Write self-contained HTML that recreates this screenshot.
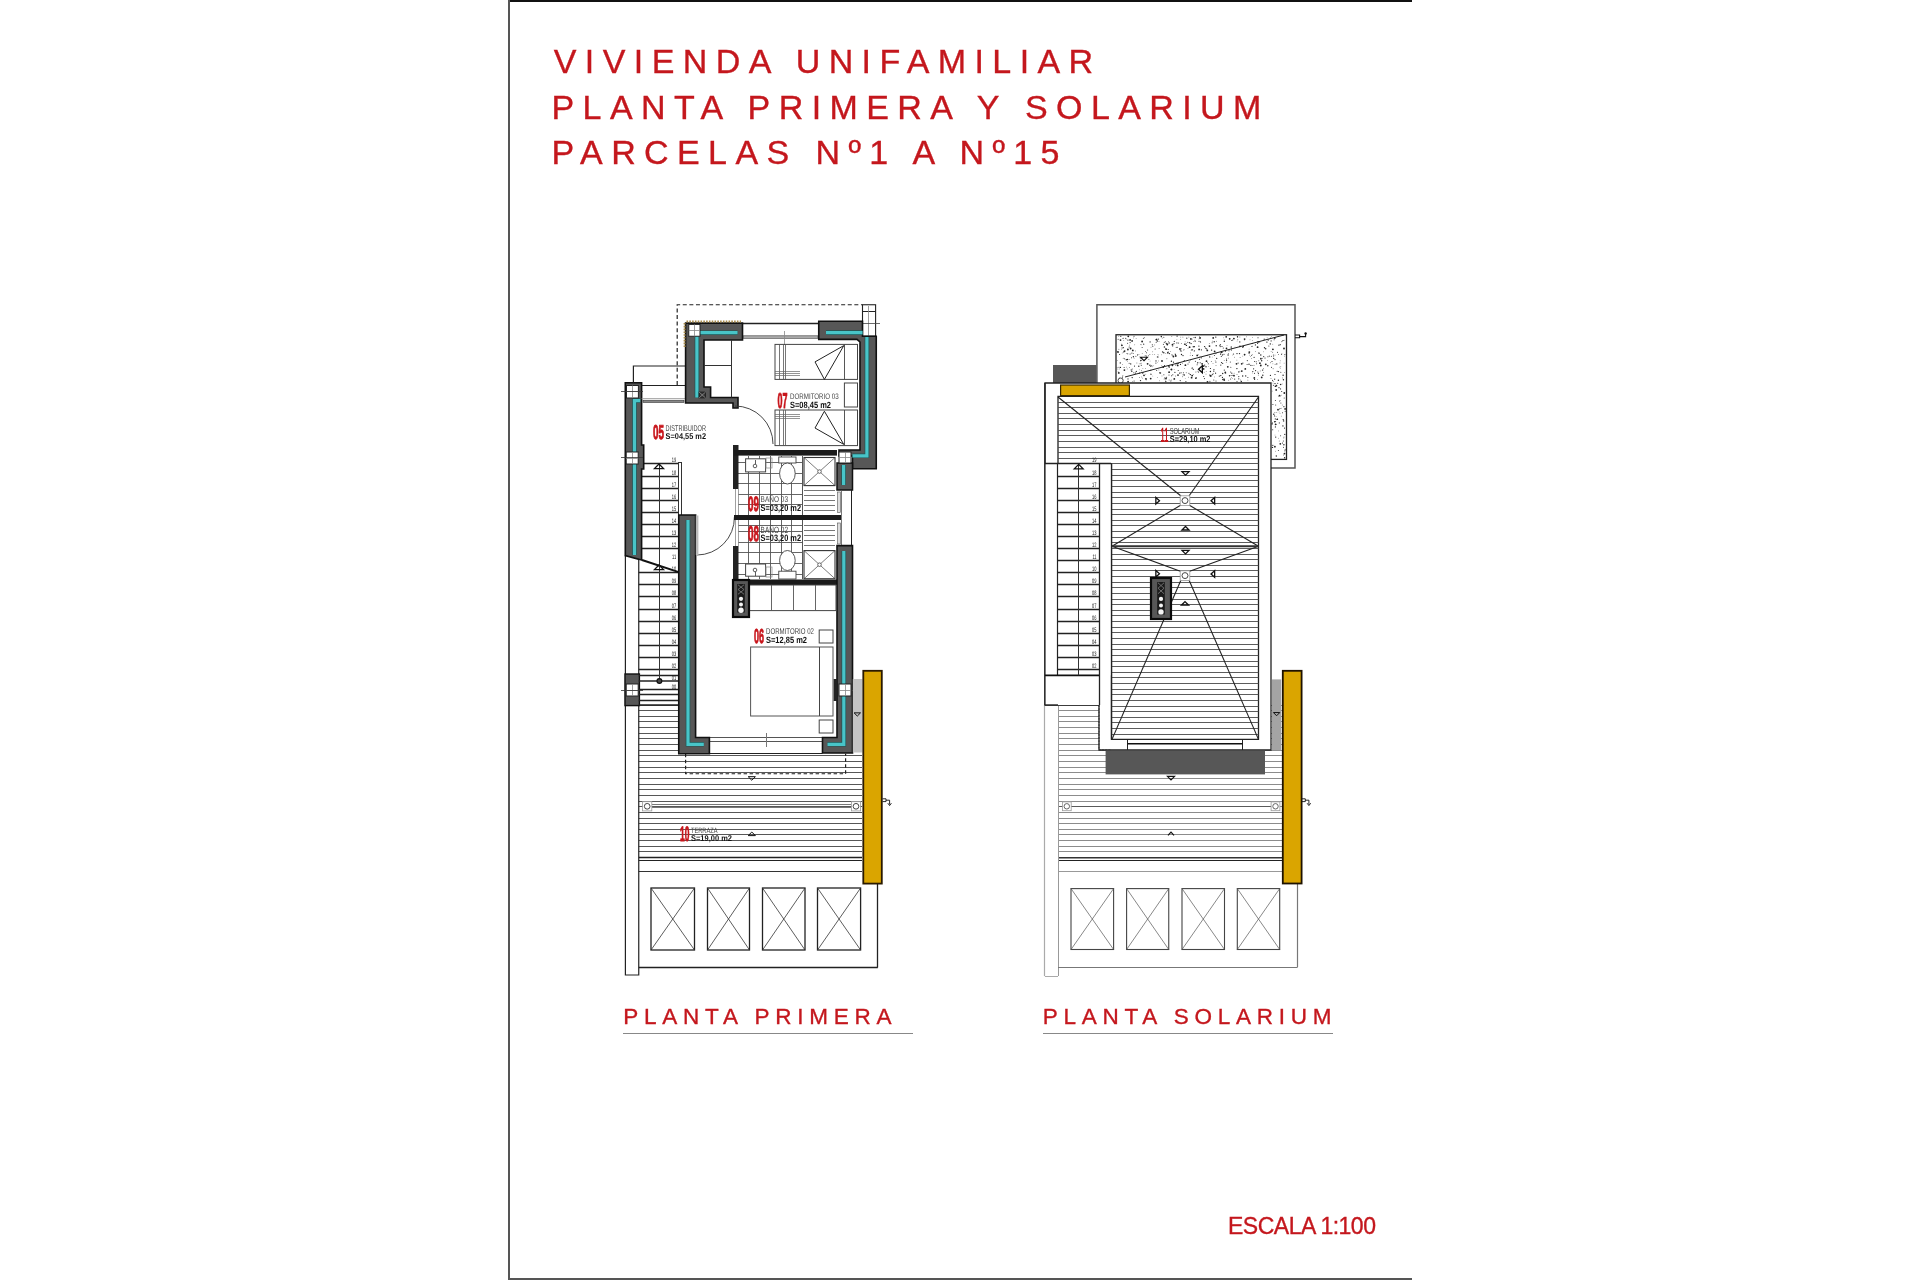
<!DOCTYPE html>
<html><head><meta charset="utf-8">
<style>
html,body{margin:0;padding:0;background:#fff;}
body{width:1920px;height:1280px;position:relative;overflow:hidden;font-family:"Liberation Sans",sans-serif;}
.t{position:absolute;color:#c4171d;white-space:nowrap;line-height:1;-webkit-text-stroke:0.35px #c4171d;}
.title{font-size:34px;letter-spacing:8.4px;}
.cap{font-size:22.5px;letter-spacing:5.75px;}
svg{position:absolute;left:0;top:0;} svg text{text-rendering:geometricPrecision;} svg{will-change:transform;}
</style></head><body>
<svg width="1920" height="1280" viewBox="0 0 1920 1280"><rect x="508" y="0" width="904" height="2" fill="#111" stroke="none" stroke-width="1" /><rect x="508" y="0" width="2" height="1280" fill="#555" stroke="none" stroke-width="1" /><rect x="508" y="1278" width="904" height="2" fill="#555" stroke="none" stroke-width="1" /><rect x="623" y="1033" width="290" height="1" fill="#888" stroke="none" stroke-width="1" /><rect x="1043" y="1033" width="290" height="1" fill="#888" stroke="none" stroke-width="1" /><line x1="638.75" y1="705.5" x2="862" y2="705.5" stroke="#444" stroke-width="0.9" /><line x1="638.75" y1="710.5" x2="862" y2="710.5" stroke="#444" stroke-width="0.9" /><line x1="638.75" y1="716.5" x2="862" y2="716.5" stroke="#444" stroke-width="0.9" /><line x1="638.75" y1="721.5" x2="862" y2="721.5" stroke="#444" stroke-width="0.9" /><line x1="638.75" y1="727.5" x2="862" y2="727.5" stroke="#444" stroke-width="0.9" /><line x1="638.75" y1="733.5" x2="862" y2="733.5" stroke="#444" stroke-width="0.9" /><line x1="638.75" y1="738.5" x2="862" y2="738.5" stroke="#444" stroke-width="0.9" /><line x1="638.75" y1="744.5" x2="862" y2="744.5" stroke="#444" stroke-width="0.9" /><line x1="638.75" y1="750.5" x2="862" y2="750.5" stroke="#444" stroke-width="0.9" /><line x1="638.75" y1="755.5" x2="862" y2="755.5" stroke="#444" stroke-width="0.9" /><line x1="638.75" y1="761.5" x2="862" y2="761.5" stroke="#444" stroke-width="0.9" /><line x1="638.75" y1="767.5" x2="862" y2="767.5" stroke="#444" stroke-width="0.9" /><line x1="638.75" y1="772.5" x2="862" y2="772.5" stroke="#444" stroke-width="0.9" /><line x1="638.75" y1="778.5" x2="862" y2="778.5" stroke="#444" stroke-width="0.9" /><line x1="638.75" y1="784.5" x2="862" y2="784.5" stroke="#444" stroke-width="0.9" /><line x1="638.75" y1="789.5" x2="862" y2="789.5" stroke="#444" stroke-width="0.9" /><line x1="638.75" y1="795.5" x2="862" y2="795.5" stroke="#444" stroke-width="0.9" /><line x1="638.75" y1="801.5" x2="862" y2="801.5" stroke="#444" stroke-width="0.9" /><line x1="638.75" y1="806.5" x2="862" y2="806.5" stroke="#444" stroke-width="0.9" /><line x1="638.75" y1="812.5" x2="862" y2="812.5" stroke="#444" stroke-width="0.9" /><line x1="638.75" y1="818.5" x2="862" y2="818.5" stroke="#444" stroke-width="0.9" /><line x1="638.75" y1="823.5" x2="862" y2="823.5" stroke="#444" stroke-width="0.9" /><line x1="638.75" y1="829.5" x2="862" y2="829.5" stroke="#444" stroke-width="0.9" /><line x1="638.75" y1="834.5" x2="862" y2="834.5" stroke="#444" stroke-width="0.9" /><line x1="638.75" y1="840.5" x2="862" y2="840.5" stroke="#444" stroke-width="0.9" /><line x1="638.75" y1="846.5" x2="862" y2="846.5" stroke="#444" stroke-width="0.9" /><line x1="638.75" y1="851.5" x2="862" y2="851.5" stroke="#444" stroke-width="0.9" /><line x1="638.75" y1="857.5" x2="862" y2="857.5" stroke="#222" stroke-width="1.3" /><line x1="638.75" y1="860.5" x2="862" y2="860.5" stroke="#222" stroke-width="1.1" /><line x1="638.75" y1="871.5" x2="862" y2="871.5" stroke="#333" stroke-width="1.2" /><rect x="679" y="703" width="173.5" height="50.7" fill="#fff" stroke="none" stroke-width="1" /><line x1="652" y1="804.5" x2="851" y2="804.5" stroke="#555" stroke-width="0.8" /><line x1="652" y1="807.5" x2="851" y2="807.5" stroke="#555" stroke-width="0.8" /><rect x="642.6" y="801.6999999999999" width="9.2" height="9.2" fill="#fff" stroke="#999" stroke-width="0.8" /><circle cx="647.2" cy="806.3" r="2.852" fill="#fff" stroke="#333" stroke-width="0.9"/><rect x="851.4" y="801.6999999999999" width="9.2" height="9.2" fill="#fff" stroke="#999" stroke-width="0.8" /><circle cx="856" cy="806.3" r="2.852" fill="#fff" stroke="#333" stroke-width="0.9"/><path d="M748.1999999999999,776.68 H755.4 L751.8,780.28 Z" fill="none" stroke="#111" stroke-width="1" /><path d="M748.1999999999999,835.62 H755.4 L751.8,832.02 Z" fill="none" stroke="#111" stroke-width="1" /><path d="M685.6,753.75 V773.75 H845.6 V753.75" fill="none" stroke="#222" stroke-width="1.2" stroke-dasharray="3.5 2.5"/><line x1="709.4" y1="737.5" x2="822.5" y2="737.5" stroke="#555" stroke-width="1.1" /><line x1="709.4" y1="741.5" x2="822.5" y2="741.5" stroke="#555" stroke-width="1.1" /><line x1="709.4" y1="753.5" x2="822.5" y2="753.5" stroke="#222" stroke-width="1.2" /><line x1="766.5" y1="733" x2="766.5" y2="747" stroke="#777" stroke-width="1" /><line x1="638.75" y1="967.5" x2="877.8" y2="967.5" stroke="#222" stroke-width="1.3" /><line x1="877.5" y1="884" x2="877.5" y2="967.5" stroke="#222" stroke-width="1.3" /><rect x="651" y="888" width="43.5" height="62" fill="none" stroke="#222" stroke-width="1.3" /><line x1="651" y1="888" x2="694.5" y2="950" stroke="#333" stroke-width="0.8" /><line x1="694.5" y1="888" x2="651" y2="950" stroke="#333" stroke-width="0.8" /><rect x="707.5" y="888" width="42.0" height="62" fill="none" stroke="#222" stroke-width="1.3" /><line x1="707.5" y1="888" x2="749.5" y2="950" stroke="#333" stroke-width="0.8" /><line x1="749.5" y1="888" x2="707.5" y2="950" stroke="#333" stroke-width="0.8" /><rect x="762.5" y="888" width="42.5" height="62" fill="none" stroke="#222" stroke-width="1.3" /><line x1="762.5" y1="888" x2="805" y2="950" stroke="#333" stroke-width="0.8" /><line x1="805" y1="888" x2="762.5" y2="950" stroke="#333" stroke-width="0.8" /><rect x="817.5" y="888" width="43.1" height="62" fill="none" stroke="#222" stroke-width="1.3" /><line x1="817.5" y1="888" x2="860.6" y2="950" stroke="#333" stroke-width="0.8" /><line x1="860.6" y1="888" x2="817.5" y2="950" stroke="#333" stroke-width="0.8" /><path d="M625.4,555.6 V975 H638.75 V560" fill="none" stroke="#222" stroke-width="1.2" /><rect x="625" y="674" width="14.4" height="31.6" fill="#575757" stroke="#111" stroke-width="1.4" /><rect x="626.2" y="684" width="12.0" height="12" fill="#fff" stroke="#222" stroke-width="1" /><line x1="632.5" y1="684" x2="632.5" y2="696" stroke="#888" stroke-width="0.8" /><line x1="626.2" y1="690.5" x2="638.2" y2="690.5" stroke="#888" stroke-width="0.8" /><line x1="621" y1="690.5" x2="643" y2="690.5" stroke="#333" stroke-width="0.8" /><line x1="642" y1="463.5" x2="678" y2="463.5" stroke="#222" stroke-width="1.3" /><line x1="642" y1="476.5" x2="678" y2="476.5" stroke="#222" stroke-width="1.3" /><line x1="642" y1="488.5" x2="678" y2="488.5" stroke="#222" stroke-width="1.3" /><line x1="642" y1="500.5" x2="678" y2="500.5" stroke="#222" stroke-width="1.3" /><line x1="642" y1="512.5" x2="678" y2="512.5" stroke="#222" stroke-width="1.3" /><line x1="642" y1="524.5" x2="678" y2="524.5" stroke="#222" stroke-width="1.3" /><line x1="642" y1="536.5" x2="678" y2="536.5" stroke="#222" stroke-width="1.3" /><line x1="642" y1="548.5" x2="678" y2="548.5" stroke="#222" stroke-width="1.3" /><line x1="638.75" y1="572.5" x2="678" y2="572.5" stroke="#222" stroke-width="1.3" /><line x1="638.75" y1="584.5" x2="678" y2="584.5" stroke="#222" stroke-width="1.3" /><line x1="638.75" y1="596.5" x2="678" y2="596.5" stroke="#222" stroke-width="1.3" /><line x1="638.75" y1="609.5" x2="678" y2="609.5" stroke="#222" stroke-width="1.3" /><line x1="638.75" y1="621.5" x2="678" y2="621.5" stroke="#222" stroke-width="1.3" /><line x1="638.75" y1="633.5" x2="678" y2="633.5" stroke="#222" stroke-width="1.3" /><line x1="638.75" y1="645.5" x2="678" y2="645.5" stroke="#222" stroke-width="1.3" /><line x1="638.75" y1="657.5" x2="678" y2="657.5" stroke="#222" stroke-width="1.3" /><line x1="638.75" y1="669.5" x2="678" y2="669.5" stroke="#222" stroke-width="1.3" /><line x1="638.75" y1="675.5" x2="678" y2="675.5" stroke="#222" stroke-width="1.3" /><line x1="638.75" y1="681" x2="678" y2="681" stroke="#222" stroke-width="1.6" /><line x1="638.75" y1="689.5" x2="678" y2="689.5" stroke="#222" stroke-width="1.3" /><line x1="638.75" y1="694.5" x2="678" y2="694.5" stroke="#222" stroke-width="1.3" /><line x1="638.75" y1="700.5" x2="678" y2="700.5" stroke="#222" stroke-width="1.3" /><line x1="638.75" y1="705" x2="678" y2="705" stroke="#222" stroke-width="1.6" /><line x1="642" y1="560" x2="678" y2="571.9" stroke="#111" stroke-width="2.0" /><line x1="659.5" y1="463.75" x2="659.5" y2="681" stroke="#333" stroke-width="1" /><circle cx="659.4" cy="681" r="2.4" fill="#444" stroke="#111" stroke-width="1.2"/><path d="M654.5,468.525 H663.5 L659,464.025 Z" fill="none" stroke="#111" stroke-width="1.3" /><path d="M654.5,569.525 H663.5 L659,565.025 Z" fill="none" stroke="#111" stroke-width="1.3" /><line x1="678.5" y1="462" x2="678.5" y2="515" stroke="#333" stroke-width="1" /><line x1="681.5" y1="462" x2="681.5" y2="515" stroke="#333" stroke-width="1" /><line x1="678.2" y1="462.5" x2="681" y2="462.5" stroke="#333" stroke-width="1" /><text x="0" y="0" font-family="Liberation Sans" font-size="6.4" fill="#1a1a1a" font-weight="normal" text-anchor="end" transform="translate(676.2,462) scale(0.62,1)">19</text><text x="0" y="0" font-family="Liberation Sans" font-size="6.4" fill="#1a1a1a" font-weight="normal" text-anchor="end" transform="translate(676.2,474.5) scale(0.62,1)">18</text><text x="0" y="0" font-family="Liberation Sans" font-size="6.4" fill="#1a1a1a" font-weight="normal" text-anchor="end" transform="translate(676.2,486.5) scale(0.62,1)">17</text><text x="0" y="0" font-family="Liberation Sans" font-size="6.4" fill="#1a1a1a" font-weight="normal" text-anchor="end" transform="translate(676.2,498.5) scale(0.62,1)">16</text><text x="0" y="0" font-family="Liberation Sans" font-size="6.4" fill="#1a1a1a" font-weight="normal" text-anchor="end" transform="translate(676.2,510.5) scale(0.62,1)">15</text><text x="0" y="0" font-family="Liberation Sans" font-size="6.4" fill="#1a1a1a" font-weight="normal" text-anchor="end" transform="translate(676.2,522.5) scale(0.62,1)">14</text><text x="0" y="0" font-family="Liberation Sans" font-size="6.4" fill="#1a1a1a" font-weight="normal" text-anchor="end" transform="translate(676.2,534.5) scale(0.62,1)">13</text><text x="0" y="0" font-family="Liberation Sans" font-size="6.4" fill="#1a1a1a" font-weight="normal" text-anchor="end" transform="translate(676.2,546.5) scale(0.62,1)">12</text><text x="0" y="0" font-family="Liberation Sans" font-size="6.4" fill="#1a1a1a" font-weight="normal" text-anchor="end" transform="translate(676.2,558.5) scale(0.62,1)">11</text><text x="0" y="0" font-family="Liberation Sans" font-size="6.4" fill="#1a1a1a" font-weight="normal" text-anchor="end" transform="translate(676.2,570.5) scale(0.62,1)">10</text><text x="0" y="0" font-family="Liberation Sans" font-size="6.4" fill="#1a1a1a" font-weight="normal" text-anchor="end" transform="translate(676.2,582.8) scale(0.62,1)">09</text><text x="0" y="0" font-family="Liberation Sans" font-size="6.4" fill="#1a1a1a" font-weight="normal" text-anchor="end" transform="translate(676.2,594.5) scale(0.62,1)">08</text><text x="0" y="0" font-family="Liberation Sans" font-size="6.4" fill="#1a1a1a" font-weight="normal" text-anchor="end" transform="translate(676.2,607.5) scale(0.62,1)">07</text><text x="0" y="0" font-family="Liberation Sans" font-size="6.4" fill="#1a1a1a" font-weight="normal" text-anchor="end" transform="translate(676.2,619.5) scale(0.62,1)">06</text><text x="0" y="0" font-family="Liberation Sans" font-size="6.4" fill="#1a1a1a" font-weight="normal" text-anchor="end" transform="translate(676.2,631.5) scale(0.62,1)">05</text><text x="0" y="0" font-family="Liberation Sans" font-size="6.4" fill="#1a1a1a" font-weight="normal" text-anchor="end" transform="translate(676.2,643.5) scale(0.62,1)">04</text><text x="0" y="0" font-family="Liberation Sans" font-size="6.4" fill="#1a1a1a" font-weight="normal" text-anchor="end" transform="translate(676.2,655.5) scale(0.62,1)">03</text><text x="0" y="0" font-family="Liberation Sans" font-size="6.4" fill="#1a1a1a" font-weight="normal" text-anchor="end" transform="translate(676.2,668) scale(0.62,1)">02</text><text x="0" y="0" font-family="Liberation Sans" font-size="6.4" fill="#1a1a1a" font-weight="normal" text-anchor="end" transform="translate(676.2,679.8) scale(0.62,1)">01</text><text x="0" y="0" font-family="Liberation Sans" font-size="6.4" fill="#1a1a1a" font-weight="normal" text-anchor="end" transform="translate(676.2,688.6) scale(0.62,1)">00</text><path d="M625.3,382.7 H641.6 V445 H643.7 V469 H641.6 V560 L625.3,555.6 Z" fill="#575757" stroke="#111" stroke-width="1.6" /><path d="M640.2,400.6 H634.5 V555" fill="none" stroke="#1f5555" stroke-width="4.6" stroke-linejoin="miter" stroke-linecap="butt"/><path d="M640.2,400.6 H634.5 V555" fill="none" stroke="#48c4c8" stroke-width="3.2" stroke-linejoin="miter" stroke-linecap="butt"/><rect x="626.5" y="385.5" width="11.9" height="12.5" fill="#fff" stroke="#222" stroke-width="1" /><line x1="632.5" y1="385.5" x2="632.5" y2="398" stroke="#888" stroke-width="0.8" /><line x1="626.5" y1="391.5" x2="638.4" y2="391.5" stroke="#888" stroke-width="0.8" /><line x1="621" y1="391.5" x2="643" y2="391.5" stroke="#333" stroke-width="0.8" /><rect x="626.2" y="452" width="12.0" height="12" fill="#fff" stroke="#222" stroke-width="1" /><line x1="632.5" y1="452" x2="632.5" y2="464" stroke="#888" stroke-width="0.8" /><line x1="626.2" y1="458.5" x2="638.2" y2="458.5" stroke="#888" stroke-width="0.8" /><line x1="621" y1="457.5" x2="643" y2="457.5" stroke="#333" stroke-width="0.8" /><path d="M633.4,382.7 V366 H685.6" fill="none" stroke="#222" stroke-width="1.2" /><line x1="641.6" y1="385.5" x2="685.6" y2="385.5" stroke="#222" stroke-width="1.2" /><line x1="641.6" y1="398.5" x2="685.6" y2="398.5" stroke="#999" stroke-width="0.8" /><rect x="643" y="400.2" width="41" height="2.2" fill="#888" stroke="#333" stroke-width="0.6" /><path d="M677.2,385 V304.75 H862.5" fill="none" stroke="#222" stroke-width="1.2" stroke-dasharray="4 2.6"/><rect x="862.5" y="304.75" width="13.1" height="31.5" fill="#fff" stroke="#222" stroke-width="1.1" /><line x1="862.5" y1="311.5" x2="875.6" y2="311.5" stroke="#222" stroke-width="1" /><line x1="868.5" y1="306" x2="868.5" y2="336" stroke="#888" stroke-width="0.8" /><line x1="860" y1="323.5" x2="880" y2="323.5" stroke="#444" stroke-width="0.8" /><line x1="742.5" y1="323.5" x2="818.75" y2="323.5" stroke="#222" stroke-width="1.3" /><rect x="743" y="335.8" width="75" height="2.5" fill="#aaa" stroke="#444" stroke-width="0.6" /><line x1="784.5" y1="331" x2="784.5" y2="345" stroke="#888" stroke-width="0.8" /><path d="M685.6,323.1 H742.5 V340 H704 V387 H710.6 V397.5 H738 V408 H733 V403 H685.6 Z" fill="#575757" stroke="#111" stroke-width="1.6" /><path d="M686.5,321.6 H741" fill="none" stroke="#a88a4a" stroke-width="2" stroke-dasharray="1.6 1.2"/><path d="M684.6,323 V347" fill="none" stroke="#a88a4a" stroke-width="2" stroke-dasharray="1.6 1.2"/><path d="M737.5,332.7 H696.9 V397.5" fill="none" stroke="#1f5555" stroke-width="4.6" stroke-linejoin="miter" stroke-linecap="butt"/><path d="M737.5,332.7 H696.9 V397.5" fill="none" stroke="#48c4c8" stroke-width="3.2" stroke-linejoin="miter" stroke-linecap="butt"/><rect x="688.75" y="324.4" width="11.25" height="11.85" fill="#fff" stroke="#222" stroke-width="1" /><line x1="694.5" y1="324.4" x2="694.5" y2="336.25" stroke="#888" stroke-width="0.8" /><line x1="688.75" y1="330.5" x2="700" y2="330.5" stroke="#888" stroke-width="0.8" /><rect x="699" y="392" width="6.6" height="6" fill="#333" stroke="#111" stroke-width="0.6" /><line x1="699" y1="392" x2="705.6" y2="398" stroke="#aaa" stroke-width="0.6" /><line x1="705.6" y1="392" x2="699" y2="398" stroke="#aaa" stroke-width="0.6" /><line x1="731.5" y1="340" x2="731.5" y2="397.5" stroke="#333" stroke-width="1" /><line x1="704" y1="365.5" x2="731" y2="365.5" stroke="#333" stroke-width="1" /><path d="M735,406 A38,38 0 0 1 773,444" fill="none" stroke="#333" stroke-width="0.9" /><path d="M734.4,517 A37.5,37.5 0 0 1 697,555" fill="none" stroke="#333" stroke-width="0.9" /><path d="M818.75,321.25 H862.5 V336.25 H876.25 V468.75 H852.5 V456 H839 V450 H860 V342 L857,339.4 H818.75 Z" fill="#575757" stroke="#111" stroke-width="1.6" /><path d="M826,332.6 H862.5 M866.9,337 V455.8 H852.5" fill="none" stroke="#1f5555" stroke-width="4.6" stroke-linejoin="miter" stroke-linecap="butt"/><path d="M826,332.6 H862.5 M866.9,337 V455.8 H852.5" fill="none" stroke="#48c4c8" stroke-width="3.2" stroke-linejoin="miter" stroke-linecap="butt"/><rect x="775" y="344.4" width="82.5" height="35.0" fill="none" stroke="#444" stroke-width="1" /><line x1="779.5" y1="344.4" x2="779.5" y2="379.4" stroke="#555" stroke-width="0.8" /><line x1="783.5" y1="344.4" x2="783.5" y2="379.4" stroke="#555" stroke-width="0.8" /><line x1="785.5" y1="344.4" x2="785.5" y2="379.4" stroke="#555" stroke-width="0.8" /><line x1="844.5" y1="344.4" x2="844.5" y2="379.4" stroke="#444" stroke-width="0.9" /><line x1="775" y1="371.5" x2="800" y2="371.5" stroke="#666" stroke-width="0.7" /><line x1="775" y1="373.5" x2="800" y2="373.5" stroke="#666" stroke-width="0.7" /><line x1="775" y1="375.5" x2="800" y2="375.5" stroke="#666" stroke-width="0.7" /><path d="M843.8,345.6 L815,361.9 L824.4,379.4 Z" fill="none" stroke="#222" stroke-width="1" /><rect x="775" y="410" width="82.5" height="35.6" fill="none" stroke="#444" stroke-width="1" /><line x1="779.5" y1="410" x2="779.5" y2="445.6" stroke="#555" stroke-width="0.8" /><line x1="783.5" y1="410" x2="783.5" y2="445.6" stroke="#555" stroke-width="0.8" /><line x1="785.5" y1="410" x2="785.5" y2="445.6" stroke="#555" stroke-width="0.8" /><line x1="844.5" y1="410" x2="844.5" y2="445.6" stroke="#444" stroke-width="0.9" /><line x1="775" y1="414.5" x2="800" y2="414.5" stroke="#666" stroke-width="0.7" /><line x1="775" y1="416.5" x2="800" y2="416.5" stroke="#666" stroke-width="0.7" /><line x1="775" y1="418.5" x2="800" y2="418.5" stroke="#666" stroke-width="0.7" /><path d="M824.4,411.25 L815,428 L843.8,444.4 Z" fill="none" stroke="#222" stroke-width="1" /><rect x="844.4" y="383" width="13.1" height="24" fill="none" stroke="#444" stroke-width="1" /><rect x="739" y="456" width="98" height="123" fill="#fff" stroke="none" stroke-width="1" /><line x1="748.5" y1="456" x2="748.5" y2="579" stroke="#555" stroke-width="0.9" /><line x1="759.5" y1="456" x2="759.5" y2="579" stroke="#555" stroke-width="0.9" /><line x1="770.5" y1="456" x2="770.5" y2="579" stroke="#555" stroke-width="0.9" /><line x1="781.5" y1="456" x2="781.5" y2="579" stroke="#555" stroke-width="0.9" /><line x1="791.5" y1="456" x2="791.5" y2="579" stroke="#555" stroke-width="0.9" /><line x1="738" y1="462.5" x2="802.5" y2="462.5" stroke="#555" stroke-width="0.9" /><line x1="738" y1="473.5" x2="802.5" y2="473.5" stroke="#555" stroke-width="0.9" /><line x1="738" y1="483.5" x2="802.5" y2="483.5" stroke="#555" stroke-width="0.9" /><line x1="738" y1="494.5" x2="802.5" y2="494.5" stroke="#555" stroke-width="0.9" /><line x1="738" y1="504.5" x2="802.5" y2="504.5" stroke="#555" stroke-width="0.9" /><line x1="738" y1="525.5" x2="802.5" y2="525.5" stroke="#555" stroke-width="0.9" /><line x1="738" y1="531.5" x2="802.5" y2="531.5" stroke="#555" stroke-width="0.9" /><line x1="738" y1="542.5" x2="802.5" y2="542.5" stroke="#555" stroke-width="0.9" /><line x1="738" y1="552.5" x2="802.5" y2="552.5" stroke="#555" stroke-width="0.9" /><line x1="738" y1="563.5" x2="802.5" y2="563.5" stroke="#555" stroke-width="0.9" /><line x1="738" y1="574.5" x2="802.5" y2="574.5" stroke="#555" stroke-width="0.9" /><line x1="802.5" y1="456" x2="802.5" y2="579" stroke="#555" stroke-width="1" /><rect x="804" y="457.5" width="31" height="28.1" fill="#fff" stroke="#333" stroke-width="1.1" /><line x1="804" y1="457.5" x2="835" y2="485.6" stroke="#444" stroke-width="0.7" /><line x1="835" y1="457.5" x2="804" y2="485.6" stroke="#444" stroke-width="0.7" /><circle cx="819.5" cy="471.55" r="1.8" fill="#fff" stroke="#333" stroke-width="0.7"/><rect x="804" y="550.6" width="31" height="28.15" fill="#fff" stroke="#333" stroke-width="1.1" /><line x1="804" y1="550.6" x2="835" y2="578.75" stroke="#444" stroke-width="0.7" /><line x1="835" y1="550.6" x2="804" y2="578.75" stroke="#444" stroke-width="0.7" /><circle cx="819.5" cy="564.675" r="1.8" fill="#fff" stroke="#333" stroke-width="0.7"/><line x1="804" y1="490.5" x2="835" y2="490.5" stroke="#777" stroke-width="1" /><line x1="804" y1="495.5" x2="835" y2="495.5" stroke="#777" stroke-width="1" /><line x1="804" y1="500.5" x2="835" y2="500.5" stroke="#777" stroke-width="1" /><line x1="804" y1="505.5" x2="835" y2="505.5" stroke="#777" stroke-width="1" /><line x1="804" y1="510.5" x2="835" y2="510.5" stroke="#777" stroke-width="1" /><line x1="804" y1="525.5" x2="835" y2="525.5" stroke="#777" stroke-width="1" /><line x1="804" y1="530.5" x2="835" y2="530.5" stroke="#777" stroke-width="1" /><line x1="804" y1="535.5" x2="835" y2="535.5" stroke="#777" stroke-width="1" /><line x1="804" y1="540.5" x2="835" y2="540.5" stroke="#777" stroke-width="1" /><line x1="804" y1="545.5" x2="835" y2="545.5" stroke="#777" stroke-width="1" /><rect x="745.6" y="458.8" width="20.0" height="13.1" fill="#fff" stroke="#444" stroke-width="1" /><circle cx="755" cy="466" r="1.8" fill="none" stroke="#333" stroke-width="0.8"/><line x1="755.5" y1="460" x2="755.5" y2="464" stroke="#333" stroke-width="0.8" /><rect x="745.6" y="564" width="20.0" height="12.2" fill="#fff" stroke="#444" stroke-width="1" /><circle cx="755" cy="570" r="1.8" fill="none" stroke="#333" stroke-width="0.8"/><line x1="755.5" y1="572" x2="755.5" y2="576" stroke="#333" stroke-width="0.8" /><rect x="766" y="458" width="6" height="10" fill="none" stroke="#888" stroke-width="0.7" /><rect x="766" y="567" width="6" height="10" fill="none" stroke="#888" stroke-width="0.7" /><rect x="778.75" y="457" width="17.25" height="6" fill="#fff" stroke="#444" stroke-width="0.9" /><ellipse cx="787.4" cy="473.5" rx="7.8" ry="10.5" fill="#fff" stroke="#444" stroke-width="0.9"/><rect x="778.75" y="571.2" width="17.25" height="7.8" fill="#fff" stroke="#444" stroke-width="0.9" /><ellipse cx="787.4" cy="560.5" rx="7.8" ry="10" fill="#fff" stroke="#444" stroke-width="0.9"/><rect x="733" y="445" width="5.5" height="44" fill="#222" stroke="none" stroke-width="1" /><rect x="733" y="546" width="5.5" height="36" fill="#222" stroke="none" stroke-width="1" /><line x1="735.5" y1="489" x2="735.5" y2="546" stroke="#888" stroke-width="0.8" /><line x1="738.5" y1="489" x2="738.5" y2="546" stroke="#888" stroke-width="0.8" /><rect x="734" y="450" width="103" height="5.6" fill="#1a1a1a" stroke="none" stroke-width="1" /><rect x="734" y="515" width="107" height="5" fill="#1a1a1a" stroke="none" stroke-width="1" /><rect x="734" y="579.5" width="103" height="5.5" fill="#1a1a1a" stroke="none" stroke-width="1" /><path d="M837,463 H852.5 V490 H837 Z" fill="#575757" stroke="#111" stroke-width="1.5" /><path d="M843.6,465 V485" fill="none" stroke="#1f5555" stroke-width="4.6" stroke-linejoin="miter" stroke-linecap="butt"/><path d="M843.6,465 V485" fill="none" stroke="#48c4c8" stroke-width="3.2" stroke-linejoin="miter" stroke-linecap="butt"/><rect x="839" y="452" width="12" height="11" fill="#fff" stroke="#222" stroke-width="1" /><line x1="845.5" y1="452" x2="845.5" y2="463" stroke="#888" stroke-width="0.8" /><line x1="839" y1="457.5" x2="851" y2="457.5" stroke="#888" stroke-width="0.8" /><line x1="841.5" y1="490" x2="841.5" y2="546" stroke="#555" stroke-width="0.8" /><line x1="851.5" y1="490" x2="851.5" y2="546" stroke="#222" stroke-width="1" /><rect x="837.5" y="492" width="3.0" height="20.5" fill="#ddd" stroke="#555" stroke-width="0.6" /><rect x="837.5" y="523" width="3.0" height="21" fill="#ddd" stroke="#555" stroke-width="0.6" /><path d="M678.75,515 H695.6 V737.5 H709.4 V753.75 H678.75 Z" fill="#575757" stroke="#111" stroke-width="1.6" /><path d="M688,520 V744.3 H703.8" fill="none" stroke="#1f5555" stroke-width="4.6" stroke-linejoin="miter" stroke-linecap="butt"/><path d="M688,520 V744.3 H703.8" fill="none" stroke="#48c4c8" stroke-width="3.2" stroke-linejoin="miter" stroke-linecap="butt"/><rect x="695.8" y="515.5" width="2.6" height="39.5" fill="#bbb" stroke="none" stroke-width="1" /><path d="M837,545.6 H852.5 V753 H822.5 V737.5 H837 Z" fill="#575757" stroke="#111" stroke-width="1.6" /><path d="M843.8,551 V744.3 H827.5" fill="none" stroke="#1f5555" stroke-width="4.6" stroke-linejoin="miter" stroke-linecap="butt"/><path d="M843.8,551 V744.3 H827.5" fill="none" stroke="#48c4c8" stroke-width="3.2" stroke-linejoin="miter" stroke-linecap="butt"/><rect x="833.6" y="679" width="3.6" height="22" fill="#222" stroke="none" stroke-width="1" /><rect x="839" y="684" width="12" height="12" fill="#fff" stroke="#222" stroke-width="1" /><line x1="845.5" y1="684" x2="845.5" y2="696" stroke="#888" stroke-width="0.8" /><line x1="839" y1="690.5" x2="851" y2="690.5" stroke="#888" stroke-width="0.8" /><line x1="851" y1="690.5" x2="858" y2="690.5" stroke="#333" stroke-width="0.8" /><rect x="852.8" y="679" width="9.6" height="73.5" fill="#c4c4c4" stroke="none" stroke-width="1" /><path d="M854.0999999999999,712.8599999999999 H860.5 L857.3,716.06 Z" fill="none" stroke="#111" stroke-width="1" /><rect x="863.3" y="670.8" width="18.5" height="212.8" fill="#daa500" stroke="#2a1a00" stroke-width="1.8" /><path d="M882.5,798.8 H886 V801.6 H882.5 M886,800.2 H889.6 V804.5" fill="none" stroke="#111" stroke-width="0.9" /><path d="M887.8,803.2 L889.6,805.6 L891.4,803.2" fill="none" stroke="#111" stroke-width="0.9" /><rect x="749.4" y="585" width="86.6" height="25.6" fill="none" stroke="#444" stroke-width="1" /><line x1="771.5" y1="585" x2="771.5" y2="610.6" stroke="#555" stroke-width="0.9" /><line x1="793.5" y1="585" x2="793.5" y2="610.6" stroke="#555" stroke-width="0.9" /><line x1="815.5" y1="585" x2="815.5" y2="610.6" stroke="#555" stroke-width="0.9" /><rect x="750.6" y="647" width="82.4" height="69" fill="none" stroke="#555" stroke-width="1" /><line x1="819.5" y1="647" x2="819.5" y2="716" stroke="#444" stroke-width="1" /><rect x="819.2" y="630" width="13.8" height="13" fill="none" stroke="#444" stroke-width="1" /><rect x="819.2" y="720" width="13.8" height="13" fill="none" stroke="#444" stroke-width="1" /><rect x="733" y="580" width="16" height="37" fill="#575757" stroke="#0a0a0a" stroke-width="2.2" /><rect x="737.2" y="584" width="7.6" height="28.5" fill="#1a1a1a" stroke="none" stroke-width="1" /><path d="M738.0,584.8 L744.0,589.53 L738.0,594.26 M744.0,584.8 L738.0,589.53 L744.0,594.26" fill="none" stroke="#777" stroke-width="0.9" /><circle cx="741.0" cy="598.82" r="2.1" fill="#f4f4f4"/><circle cx="741.0" cy="604.52" r="2.0" fill="#f4f4f4"/><circle cx="741.0" cy="610.22" r="2.7" fill="#f4f4f4"/><rect x="1096.9" y="304.75" width="198.1" height="163.25" fill="#fff" stroke="#555" stroke-width="1.5" /><rect x="1116" y="334.75" width="170.5" height="124.65" fill="#fff" stroke="#222" stroke-width="1.3" /><g fill="#222"><circle cx="1171.6" cy="354.5" r="0.35"/><circle cx="1178.6" cy="343.1" r="0.5"/><circle cx="1123.3" cy="389.1" r="0.4"/><circle cx="1127.0" cy="405.2" r="0.5"/><circle cx="1127.4" cy="407.7" r="0.35"/><circle cx="1281.5" cy="341.7" r="0.45"/><circle cx="1165.8" cy="353.7" r="0.4"/><circle cx="1231.9" cy="348.6" r="0.5"/><circle cx="1127.6" cy="343.3" r="0.5"/><circle cx="1272.6" cy="380.3" r="0.5"/><circle cx="1239.9" cy="371.2" r="0.4"/><circle cx="1244.6" cy="354.6" r="0.9"/><circle cx="1174.3" cy="378.9" r="0.9"/><circle cx="1127.2" cy="421.9" r="0.9"/><circle cx="1229.7" cy="338.8" r="0.9"/><circle cx="1200.2" cy="362.7" r="0.55"/><circle cx="1138.8" cy="366.3" r="0.7"/><circle cx="1163.8" cy="352.8" r="0.7"/><circle cx="1262.6" cy="370.1" r="0.7"/><circle cx="1283.2" cy="419.6" r="0.7"/><circle cx="1278.4" cy="354.5" r="0.45"/><circle cx="1119.0" cy="437.7" r="0.45"/><circle cx="1161.3" cy="336.5" r="0.7"/><circle cx="1170.7" cy="351.4" r="0.35"/><circle cx="1277.4" cy="419.3" r="0.7"/><circle cx="1191.2" cy="349.5" r="0.35"/><circle cx="1220.4" cy="344.6" r="0.5"/><circle cx="1220.5" cy="354.2" r="0.55"/><circle cx="1278.0" cy="409.7" r="0.9"/><circle cx="1284.3" cy="393.0" r="0.9"/><circle cx="1169.5" cy="353.6" r="0.6"/><circle cx="1176.9" cy="363.3" r="0.6"/><circle cx="1149.9" cy="365.3" r="0.7"/><circle cx="1241.7" cy="363.8" r="0.9"/><circle cx="1176.9" cy="339.5" r="0.35"/><circle cx="1238.8" cy="378.8" r="0.6"/><circle cx="1130.6" cy="348.5" r="0.9"/><circle cx="1150.1" cy="361.0" r="0.35"/><circle cx="1251.7" cy="346.4" r="0.4"/><circle cx="1280.7" cy="384.5" r="0.7"/><circle cx="1242.3" cy="346.4" r="0.45"/><circle cx="1145.6" cy="351.5" r="0.45"/><circle cx="1275.0" cy="355.1" r="0.45"/><circle cx="1120.6" cy="433.8" r="0.4"/><circle cx="1256.2" cy="361.8" r="0.55"/><circle cx="1245.7" cy="375.9" r="0.7"/><circle cx="1257.6" cy="343.5" r="0.6"/><circle cx="1139.0" cy="354.6" r="0.35"/><circle cx="1142.2" cy="353.3" r="0.4"/><circle cx="1210.8" cy="375.9" r="0.9"/><circle cx="1249.1" cy="349.0" r="0.35"/><circle cx="1158.9" cy="369.9" r="0.4"/><circle cx="1275.6" cy="421.6" r="0.55"/><circle cx="1272.5" cy="445.3" r="0.5"/><circle cx="1258.5" cy="352.8" r="0.4"/><circle cx="1183.1" cy="374.7" r="0.5"/><circle cx="1189.2" cy="362.0" r="0.55"/><circle cx="1228.3" cy="353.5" r="0.45"/><circle cx="1280.0" cy="362.9" r="0.4"/><circle cx="1283.8" cy="437.9" r="0.45"/><circle cx="1177.1" cy="347.3" r="0.6"/><circle cx="1120.3" cy="403.8" r="0.9"/><circle cx="1204.2" cy="372.2" r="0.4"/><circle cx="1131.2" cy="369.3" r="0.45"/><circle cx="1162.6" cy="351.9" r="0.7"/><circle cx="1276.4" cy="385.7" r="0.9"/><circle cx="1235.0" cy="347.0" r="0.35"/><circle cx="1251.7" cy="358.4" r="0.4"/><circle cx="1162.3" cy="338.1" r="0.4"/><circle cx="1252.1" cy="346.3" r="0.5"/><circle cx="1128.2" cy="441.6" r="0.9"/><circle cx="1118.9" cy="457.7" r="0.7"/><circle cx="1273.1" cy="368.8" r="0.45"/><circle cx="1124.3" cy="422.8" r="0.4"/><circle cx="1280.3" cy="368.1" r="0.45"/><circle cx="1151.0" cy="374.2" r="0.55"/><circle cx="1206.5" cy="361.2" r="0.9"/><circle cx="1201.3" cy="357.8" r="0.6"/><circle cx="1123.2" cy="338.3" r="0.5"/><circle cx="1203.6" cy="366.1" r="0.9"/><circle cx="1282.5" cy="377.9" r="0.45"/><circle cx="1185.2" cy="378.5" r="0.35"/><circle cx="1258.0" cy="337.7" r="0.55"/><circle cx="1189.6" cy="342.8" r="0.7"/><circle cx="1164.5" cy="365.6" r="0.55"/><circle cx="1124.6" cy="358.7" r="0.55"/><circle cx="1192.1" cy="368.2" r="0.6"/><circle cx="1280.9" cy="403.0" r="0.5"/><circle cx="1122.8" cy="444.0" r="0.5"/><circle cx="1177.1" cy="336.1" r="0.7"/><circle cx="1131.1" cy="370.1" r="0.5"/><circle cx="1183.4" cy="372.7" r="0.5"/><circle cx="1260.8" cy="355.0" r="0.7"/><circle cx="1200.3" cy="370.8" r="0.45"/><circle cx="1124.4" cy="438.2" r="0.7"/><circle cx="1155.7" cy="339.8" r="0.45"/><circle cx="1125.6" cy="338.3" r="0.5"/><circle cx="1199.4" cy="336.4" r="0.4"/><circle cx="1128.1" cy="426.2" r="0.55"/><circle cx="1165.4" cy="341.7" r="0.5"/><circle cx="1130.1" cy="354.0" r="0.55"/><circle cx="1221.7" cy="352.3" r="0.9"/><circle cx="1127.2" cy="368.9" r="0.4"/><circle cx="1274.8" cy="338.1" r="0.9"/><circle cx="1284.6" cy="457.7" r="0.7"/><circle cx="1277.5" cy="352.2" r="0.55"/><circle cx="1198.9" cy="339.0" r="0.35"/><circle cx="1277.1" cy="419.4" r="0.7"/><circle cx="1167.9" cy="353.2" r="0.6"/><circle cx="1180.4" cy="350.8" r="0.6"/><circle cx="1117.3" cy="427.9" r="0.7"/><circle cx="1165.8" cy="381.6" r="0.7"/><circle cx="1164.3" cy="342.3" r="0.55"/><circle cx="1224.0" cy="354.2" r="0.55"/><circle cx="1190.5" cy="374.6" r="0.6"/><circle cx="1121.9" cy="429.2" r="0.7"/><circle cx="1125.3" cy="425.6" r="0.9"/><circle cx="1220.6" cy="353.0" r="0.55"/><circle cx="1209.7" cy="356.9" r="0.7"/><circle cx="1174.9" cy="372.4" r="0.55"/><circle cx="1185.4" cy="365.2" r="0.9"/><circle cx="1145.2" cy="355.8" r="0.5"/><circle cx="1158.1" cy="357.4" r="0.4"/><circle cx="1170.8" cy="381.1" r="0.5"/><circle cx="1174.0" cy="343.6" r="0.55"/><circle cx="1213.8" cy="380.1" r="0.5"/><circle cx="1189.8" cy="374.2" r="0.35"/><circle cx="1280.2" cy="396.0" r="0.4"/><circle cx="1280.8" cy="366.4" r="0.4"/><circle cx="1154.7" cy="354.6" r="0.4"/><circle cx="1275.6" cy="424.3" r="0.9"/><circle cx="1117.2" cy="351.4" r="0.35"/><circle cx="1225.8" cy="373.2" r="0.45"/><circle cx="1133.8" cy="372.8" r="0.5"/><circle cx="1182.4" cy="363.4" r="0.35"/><circle cx="1118.8" cy="372.9" r="0.9"/><circle cx="1163.9" cy="374.7" r="0.5"/><circle cx="1197.1" cy="364.7" r="0.5"/><circle cx="1121.9" cy="386.4" r="0.55"/><circle cx="1126.3" cy="359.8" r="0.7"/><circle cx="1130.7" cy="363.9" r="0.7"/><circle cx="1272.9" cy="363.8" r="0.35"/><circle cx="1118.1" cy="371.8" r="0.4"/><circle cx="1155.9" cy="363.1" r="0.55"/><circle cx="1126.5" cy="408.8" r="0.7"/><circle cx="1126.2" cy="338.9" r="0.45"/><circle cx="1237.0" cy="374.5" r="0.4"/><circle cx="1285.1" cy="450.0" r="0.6"/><circle cx="1191.6" cy="349.3" r="0.4"/><circle cx="1164.1" cy="379.0" r="0.4"/><circle cx="1192.2" cy="375.6" r="0.9"/><circle cx="1122.1" cy="386.3" r="0.7"/><circle cx="1123.8" cy="340.3" r="0.4"/><circle cx="1252.4" cy="343.6" r="0.5"/><circle cx="1174.1" cy="369.3" r="0.35"/><circle cx="1170.3" cy="369.7" r="0.35"/><circle cx="1128.0" cy="437.1" r="0.4"/><circle cx="1277.7" cy="383.3" r="0.55"/><circle cx="1118.5" cy="450.0" r="0.55"/><circle cx="1219.3" cy="376.1" r="0.6"/><circle cx="1183.0" cy="355.6" r="0.7"/><circle cx="1127.9" cy="340.1" r="0.6"/><circle cx="1134.7" cy="344.8" r="0.4"/><circle cx="1283.6" cy="455.0" r="0.45"/><circle cx="1229.0" cy="350.8" r="0.55"/><circle cx="1150.6" cy="366.3" r="0.5"/><circle cx="1156.7" cy="370.4" r="0.5"/><circle cx="1284.2" cy="398.1" r="0.5"/><circle cx="1226.5" cy="348.3" r="0.9"/><circle cx="1284.0" cy="348.5" r="0.9"/><circle cx="1265.8" cy="364.3" r="0.9"/><circle cx="1271.1" cy="340.9" r="0.55"/><circle cx="1156.2" cy="342.2" r="0.5"/><circle cx="1273.7" cy="381.6" r="0.45"/><circle cx="1192.7" cy="367.8" r="0.35"/><circle cx="1221.5" cy="362.6" r="0.6"/><circle cx="1174.3" cy="341.4" r="0.55"/><circle cx="1123.4" cy="425.6" r="0.5"/><circle cx="1185.9" cy="381.5" r="0.55"/><circle cx="1130.1" cy="339.9" r="0.9"/><circle cx="1209.3" cy="343.7" r="0.4"/><circle cx="1125.7" cy="427.2" r="0.6"/><circle cx="1186.8" cy="338.2" r="0.6"/><circle cx="1190.2" cy="355.2" r="0.4"/><circle cx="1144.4" cy="337.8" r="0.45"/><circle cx="1141.6" cy="370.7" r="0.45"/><circle cx="1272.9" cy="349.3" r="0.9"/><circle cx="1252.6" cy="372.9" r="0.35"/><circle cx="1281.4" cy="395.1" r="0.35"/><circle cx="1212.3" cy="341.1" r="0.45"/><circle cx="1181.6" cy="351.1" r="0.5"/><circle cx="1280.6" cy="435.8" r="0.5"/><circle cx="1123.9" cy="404.8" r="0.35"/><circle cx="1229.5" cy="375.7" r="0.7"/><circle cx="1222.7" cy="373.5" r="0.7"/><circle cx="1168.9" cy="366.5" r="0.7"/><circle cx="1190.9" cy="338.9" r="0.9"/><circle cx="1184.5" cy="344.2" r="0.6"/><circle cx="1189.6" cy="347.2" r="0.9"/><circle cx="1123.8" cy="351.9" r="0.6"/><circle cx="1126.1" cy="397.7" r="0.7"/><circle cx="1121.4" cy="344.1" r="0.4"/><circle cx="1271.4" cy="356.2" r="0.5"/><circle cx="1128.0" cy="378.9" r="0.55"/><circle cx="1272.0" cy="361.5" r="0.55"/><circle cx="1220.8" cy="365.1" r="0.6"/><circle cx="1123.2" cy="358.3" r="0.45"/><circle cx="1224.3" cy="370.1" r="0.6"/><circle cx="1267.9" cy="356.7" r="0.55"/><circle cx="1224.2" cy="380.0" r="0.9"/><circle cx="1265.7" cy="348.8" r="0.7"/><circle cx="1241.3" cy="381.5" r="0.7"/><circle cx="1283.9" cy="406.7" r="0.6"/><circle cx="1172.7" cy="346.0" r="0.5"/><circle cx="1125.1" cy="436.3" r="0.55"/><circle cx="1242.9" cy="363.1" r="0.55"/><circle cx="1139.2" cy="363.8" r="0.35"/><circle cx="1120.8" cy="336.3" r="0.6"/><circle cx="1167.7" cy="352.4" r="0.6"/><circle cx="1158.0" cy="354.3" r="0.4"/><circle cx="1127.7" cy="353.7" r="0.55"/><circle cx="1184.7" cy="368.3" r="0.35"/><circle cx="1126.5" cy="436.5" r="0.6"/><circle cx="1200.0" cy="356.2" r="0.35"/><circle cx="1124.4" cy="401.1" r="0.7"/><circle cx="1148.3" cy="355.5" r="0.4"/><circle cx="1119.1" cy="403.4" r="0.5"/><circle cx="1141.0" cy="360.4" r="0.7"/><circle cx="1254.1" cy="357.4" r="0.55"/><circle cx="1127.7" cy="412.6" r="0.9"/><circle cx="1237.5" cy="336.8" r="0.7"/><circle cx="1155.1" cy="348.9" r="0.5"/><circle cx="1225.5" cy="351.1" r="0.55"/><circle cx="1236.9" cy="368.6" r="0.7"/><circle cx="1280.8" cy="372.2" r="0.5"/><circle cx="1258.8" cy="360.8" r="0.45"/><circle cx="1242.7" cy="376.0" r="0.7"/><circle cx="1172.4" cy="365.3" r="0.9"/><circle cx="1118.1" cy="339.2" r="0.5"/><circle cx="1213.1" cy="373.7" r="0.5"/><circle cx="1212.2" cy="357.0" r="0.35"/><circle cx="1121.5" cy="349.1" r="0.45"/><circle cx="1175.1" cy="353.4" r="0.35"/><circle cx="1122.2" cy="352.9" r="0.35"/><circle cx="1128.1" cy="408.3" r="0.6"/><circle cx="1158.5" cy="360.9" r="0.35"/><circle cx="1122.8" cy="439.8" r="0.4"/><circle cx="1165.4" cy="348.2" r="0.4"/><circle cx="1166.6" cy="377.2" r="0.55"/><circle cx="1120.5" cy="367.4" r="0.55"/><circle cx="1125.2" cy="429.0" r="0.6"/><circle cx="1197.2" cy="371.2" r="0.35"/><circle cx="1250.0" cy="339.8" r="0.4"/><circle cx="1207.6" cy="362.5" r="0.4"/><circle cx="1213.8" cy="371.1" r="0.7"/><circle cx="1117.2" cy="360.7" r="0.35"/><circle cx="1117.7" cy="396.1" r="0.9"/><circle cx="1280.0" cy="408.5" r="0.55"/><circle cx="1214.4" cy="355.4" r="0.5"/><circle cx="1275.1" cy="364.3" r="0.45"/><circle cx="1222.8" cy="379.5" r="0.7"/><circle cx="1273.5" cy="445.2" r="0.4"/><circle cx="1179.7" cy="373.1" r="0.7"/><circle cx="1175.7" cy="376.0" r="0.45"/><circle cx="1210.3" cy="375.6" r="0.9"/><circle cx="1214.6" cy="351.4" r="0.9"/><circle cx="1202.5" cy="368.7" r="0.45"/><circle cx="1175.7" cy="364.9" r="0.5"/><circle cx="1284.6" cy="356.1" r="0.4"/><circle cx="1149.9" cy="354.5" r="0.45"/><circle cx="1190.3" cy="360.0" r="0.4"/><circle cx="1195.2" cy="337.5" r="0.7"/><circle cx="1188.0" cy="364.0" r="0.5"/><circle cx="1193.5" cy="374.3" r="0.4"/><circle cx="1267.8" cy="365.7" r="0.7"/><circle cx="1273.7" cy="358.4" r="0.6"/><circle cx="1123.4" cy="402.5" r="0.45"/><circle cx="1150.7" cy="378.6" r="0.9"/><circle cx="1176.9" cy="342.9" r="0.55"/><circle cx="1181.3" cy="343.5" r="0.4"/><circle cx="1234.7" cy="379.1" r="0.55"/><circle cx="1135.4" cy="373.1" r="0.7"/><circle cx="1275.4" cy="400.5" r="0.5"/><circle cx="1284.5" cy="453.6" r="0.9"/><circle cx="1152.7" cy="351.8" r="0.4"/><circle cx="1195.9" cy="372.0" r="0.45"/><circle cx="1249.0" cy="364.2" r="0.7"/><circle cx="1222.0" cy="346.5" r="0.6"/><circle cx="1142.7" cy="373.1" r="0.7"/><circle cx="1126.6" cy="437.3" r="0.6"/><circle cx="1249.1" cy="353.2" r="0.6"/><circle cx="1223.7" cy="337.8" r="0.35"/><circle cx="1152.3" cy="344.8" r="0.55"/><circle cx="1159.1" cy="348.4" r="0.45"/><circle cx="1260.9" cy="358.7" r="0.9"/><circle cx="1175.4" cy="354.7" r="0.7"/><circle cx="1250.4" cy="356.6" r="0.4"/><circle cx="1210.5" cy="368.4" r="0.5"/><circle cx="1158.5" cy="356.1" r="0.35"/><circle cx="1144.0" cy="375.3" r="0.9"/><circle cx="1278.9" cy="345.2" r="0.6"/><circle cx="1224.2" cy="339.5" r="0.35"/><circle cx="1268.2" cy="340.1" r="0.7"/><circle cx="1222.4" cy="377.4" r="0.6"/><circle cx="1164.9" cy="377.9" r="0.55"/><circle cx="1281.3" cy="416.1" r="0.4"/><circle cx="1172.8" cy="374.8" r="0.55"/><circle cx="1184.1" cy="349.3" r="0.35"/><circle cx="1134.1" cy="358.2" r="0.35"/><circle cx="1188.0" cy="348.3" r="0.35"/><circle cx="1160.5" cy="373.0" r="0.7"/><circle cx="1122.8" cy="338.5" r="0.35"/><circle cx="1185.2" cy="344.2" r="0.7"/><circle cx="1228.1" cy="355.0" r="0.7"/><circle cx="1209.5" cy="346.1" r="0.9"/><circle cx="1152.8" cy="354.6" r="0.35"/><circle cx="1188.9" cy="337.1" r="0.4"/><circle cx="1283.3" cy="441.1" r="0.5"/><circle cx="1263.5" cy="351.8" r="0.35"/><circle cx="1272.5" cy="380.8" r="0.45"/><circle cx="1240.0" cy="346.3" r="0.9"/><circle cx="1237.8" cy="337.4" r="0.35"/><circle cx="1278.4" cy="438.2" r="0.35"/><circle cx="1193.3" cy="369.3" r="0.6"/><circle cx="1166.3" cy="343.4" r="0.6"/><circle cx="1119.6" cy="354.5" r="0.55"/><circle cx="1233.0" cy="375.4" r="0.55"/><circle cx="1124.1" cy="438.0" r="0.45"/><circle cx="1271.0" cy="378.5" r="0.4"/><circle cx="1169.1" cy="343.0" r="0.7"/><circle cx="1195.4" cy="361.3" r="0.55"/><circle cx="1215.8" cy="337.1" r="0.7"/><circle cx="1194.5" cy="346.7" r="0.6"/><circle cx="1247.1" cy="364.5" r="0.55"/><circle cx="1148.9" cy="359.5" r="0.45"/><circle cx="1252.8" cy="371.5" r="0.6"/><circle cx="1142.1" cy="341.5" r="0.9"/><circle cx="1180.0" cy="349.0" r="0.9"/><circle cx="1249.7" cy="355.1" r="0.35"/><circle cx="1120.5" cy="340.1" r="0.9"/><circle cx="1215.9" cy="362.1" r="0.55"/><circle cx="1279.3" cy="367.1" r="0.35"/><circle cx="1180.7" cy="339.4" r="0.35"/><circle cx="1270.3" cy="343.9" r="0.7"/><circle cx="1272.4" cy="422.5" r="0.4"/><circle cx="1192.5" cy="355.6" r="0.5"/><circle cx="1284.1" cy="363.1" r="0.35"/><circle cx="1275.7" cy="451.2" r="0.35"/><circle cx="1258.1" cy="341.8" r="0.9"/><circle cx="1126.4" cy="353.7" r="0.35"/><circle cx="1275.3" cy="418.9" r="0.55"/><circle cx="1251.6" cy="355.2" r="0.5"/><circle cx="1273.0" cy="383.1" r="0.35"/><circle cx="1141.1" cy="363.1" r="0.35"/><circle cx="1158.6" cy="339.1" r="0.55"/><circle cx="1173.4" cy="356.5" r="0.9"/><circle cx="1198.3" cy="354.8" r="0.35"/><circle cx="1272.9" cy="404.5" r="0.55"/><circle cx="1280.6" cy="388.9" r="0.55"/><circle cx="1285.2" cy="449.2" r="0.4"/><circle cx="1281.9" cy="353.7" r="0.35"/><circle cx="1165.3" cy="380.1" r="0.35"/><circle cx="1270.7" cy="362.7" r="0.45"/><circle cx="1140.3" cy="358.0" r="0.5"/><circle cx="1236.9" cy="360.1" r="0.4"/><circle cx="1146.5" cy="352.8" r="0.5"/><circle cx="1215.2" cy="360.8" r="0.4"/><circle cx="1204.4" cy="378.6" r="0.55"/><circle cx="1200.1" cy="337.9" r="0.9"/><circle cx="1283.1" cy="340.5" r="0.6"/><circle cx="1280.2" cy="344.7" r="0.6"/><circle cx="1262.8" cy="375.3" r="0.7"/><circle cx="1166.1" cy="349.2" r="0.9"/><circle cx="1192.2" cy="339.1" r="0.45"/><circle cx="1120.5" cy="454.4" r="0.5"/><circle cx="1221.3" cy="356.5" r="0.55"/><circle cx="1122.1" cy="347.8" r="0.5"/><circle cx="1176.1" cy="347.5" r="0.45"/><circle cx="1124.6" cy="351.1" r="0.9"/><circle cx="1135.5" cy="350.9" r="0.45"/><circle cx="1208.3" cy="363.8" r="0.5"/><circle cx="1242.8" cy="356.1" r="0.35"/><circle cx="1275.0" cy="383.6" r="0.7"/><circle cx="1123.1" cy="454.8" r="0.35"/><circle cx="1247.9" cy="377.4" r="0.5"/><circle cx="1283.1" cy="375.2" r="0.7"/><circle cx="1259.8" cy="342.6" r="0.45"/><circle cx="1278.4" cy="450.4" r="0.5"/><circle cx="1118.9" cy="349.3" r="0.45"/><circle cx="1128.7" cy="389.0" r="0.35"/><circle cx="1193.5" cy="341.7" r="0.35"/><circle cx="1122.8" cy="414.5" r="0.55"/><circle cx="1123.0" cy="348.3" r="0.4"/><circle cx="1277.2" cy="371.2" r="0.55"/><circle cx="1175.6" cy="356.4" r="0.35"/><circle cx="1203.6" cy="368.9" r="0.9"/><circle cx="1214.3" cy="369.6" r="0.4"/><circle cx="1241.8" cy="371.1" r="0.9"/><circle cx="1226.6" cy="360.6" r="0.6"/><circle cx="1169.3" cy="365.7" r="0.5"/><circle cx="1280.4" cy="384.5" r="0.6"/><circle cx="1171.6" cy="375.8" r="0.55"/><circle cx="1143.7" cy="344.2" r="0.6"/><circle cx="1191.1" cy="343.6" r="0.7"/><circle cx="1257.6" cy="379.3" r="0.4"/><circle cx="1140.6" cy="360.8" r="0.55"/><circle cx="1271.1" cy="351.6" r="0.4"/><circle cx="1117.7" cy="429.7" r="0.4"/><circle cx="1238.8" cy="371.9" r="0.7"/><circle cx="1226.2" cy="336.8" r="0.9"/><circle cx="1181.1" cy="372.7" r="0.55"/><circle cx="1180.5" cy="364.4" r="0.6"/><circle cx="1270.4" cy="337.3" r="0.35"/><circle cx="1195.2" cy="341.0" r="0.6"/><circle cx="1193.3" cy="337.3" r="0.4"/><circle cx="1205.5" cy="348.1" r="0.6"/><circle cx="1273.4" cy="354.9" r="0.5"/><circle cx="1279.5" cy="395.6" r="0.9"/><circle cx="1242.8" cy="347.3" r="0.6"/><circle cx="1283.9" cy="444.7" r="0.7"/><circle cx="1254.5" cy="361.4" r="0.5"/><circle cx="1186.5" cy="343.4" r="0.4"/><circle cx="1224.3" cy="341.2" r="0.7"/><circle cx="1118.8" cy="336.3" r="0.35"/><circle cx="1133.6" cy="337.9" r="0.35"/><circle cx="1210.2" cy="368.6" r="0.45"/><circle cx="1137.5" cy="355.2" r="0.4"/><circle cx="1121.9" cy="345.3" r="0.9"/><circle cx="1252.9" cy="343.6" r="0.35"/><circle cx="1141.3" cy="365.2" r="0.55"/><circle cx="1145.5" cy="368.6" r="0.4"/><circle cx="1127.6" cy="359.5" r="0.7"/><circle cx="1120.3" cy="362.9" r="0.7"/><circle cx="1159.0" cy="341.4" r="0.45"/><circle cx="1254.5" cy="373.2" r="0.55"/><circle cx="1278.8" cy="396.7" r="0.4"/><circle cx="1238.1" cy="363.1" r="0.55"/><circle cx="1120.8" cy="442.3" r="0.4"/><circle cx="1146.2" cy="379.9" r="0.45"/><circle cx="1118.3" cy="444.0" r="0.7"/><circle cx="1211.6" cy="350.1" r="0.7"/><circle cx="1279.0" cy="387.7" r="0.6"/><circle cx="1195.7" cy="378.2" r="0.7"/><circle cx="1122.9" cy="417.3" r="0.6"/><circle cx="1252.6" cy="365.6" r="0.45"/><circle cx="1132.6" cy="369.0" r="0.45"/><circle cx="1250.9" cy="365.4" r="0.6"/><circle cx="1202.1" cy="363.8" r="0.9"/><circle cx="1285.1" cy="408.9" r="0.9"/><circle cx="1216.0" cy="381.0" r="0.5"/><circle cx="1231.2" cy="347.2" r="0.55"/><circle cx="1121.8" cy="423.9" r="0.45"/><circle cx="1131.5" cy="357.7" r="0.5"/><circle cx="1167.0" cy="344.1" r="0.55"/><circle cx="1131.8" cy="371.3" r="0.7"/><circle cx="1139.3" cy="369.8" r="0.35"/><circle cx="1121.3" cy="422.1" r="0.9"/><circle cx="1147.6" cy="350.1" r="0.5"/><circle cx="1237.1" cy="341.0" r="0.35"/><circle cx="1244.5" cy="355.1" r="0.35"/><circle cx="1275.7" cy="405.1" r="0.5"/><circle cx="1232.3" cy="378.7" r="0.35"/><circle cx="1231.8" cy="340.5" r="0.6"/><circle cx="1243.3" cy="346.5" r="0.7"/><circle cx="1285.2" cy="411.3" r="0.5"/><circle cx="1164.4" cy="347.0" r="0.7"/><circle cx="1191.6" cy="377.7" r="0.9"/><circle cx="1199.5" cy="359.2" r="0.55"/><circle cx="1146.4" cy="356.0" r="0.5"/><circle cx="1208.7" cy="366.6" r="0.35"/><circle cx="1145.3" cy="378.5" r="0.4"/><circle cx="1150.9" cy="374.0" r="0.45"/><circle cx="1118.0" cy="420.6" r="0.45"/><circle cx="1274.7" cy="379.0" r="0.55"/><circle cx="1216.0" cy="365.5" r="0.4"/><circle cx="1136.3" cy="371.4" r="0.6"/><circle cx="1199.0" cy="341.3" r="0.55"/><circle cx="1168.2" cy="349.5" r="0.55"/><circle cx="1192.5" cy="349.8" r="0.6"/><circle cx="1124.7" cy="393.3" r="0.9"/><circle cx="1282.2" cy="405.0" r="0.4"/><circle cx="1171.2" cy="380.0" r="0.4"/><circle cx="1274.6" cy="415.9" r="0.55"/><circle cx="1227.0" cy="345.6" r="0.35"/><circle cx="1121.3" cy="384.4" r="0.45"/><circle cx="1166.9" cy="358.7" r="0.45"/><circle cx="1177.0" cy="364.2" r="0.45"/><circle cx="1209.9" cy="381.2" r="0.55"/><circle cx="1157.3" cy="341.0" r="0.7"/><circle cx="1143.5" cy="372.7" r="0.4"/><circle cx="1140.9" cy="363.8" r="0.45"/><circle cx="1132.1" cy="340.9" r="0.9"/><circle cx="1197.8" cy="362.7" r="0.6"/><circle cx="1117.5" cy="438.9" r="0.7"/><circle cx="1141.1" cy="344.8" r="0.35"/><circle cx="1269.3" cy="356.1" r="0.55"/><circle cx="1117.7" cy="434.4" r="0.6"/><circle cx="1222.4" cy="354.9" r="0.7"/><circle cx="1279.1" cy="411.9" r="0.35"/><circle cx="1238.8" cy="376.6" r="0.55"/><circle cx="1259.9" cy="363.2" r="0.9"/><circle cx="1233.5" cy="354.0" r="0.6"/><circle cx="1177.7" cy="365.4" r="0.9"/><circle cx="1183.8" cy="350.0" r="0.45"/><circle cx="1280.2" cy="360.8" r="0.4"/><circle cx="1226.5" cy="359.0" r="0.55"/><circle cx="1236.5" cy="363.8" r="0.9"/><circle cx="1216.2" cy="345.8" r="0.7"/><circle cx="1276.8" cy="412.7" r="0.4"/><circle cx="1132.7" cy="381.7" r="0.35"/><circle cx="1185.1" cy="341.8" r="0.35"/><circle cx="1119.6" cy="408.7" r="0.5"/><circle cx="1194.5" cy="350.8" r="0.45"/><circle cx="1263.7" cy="356.6" r="0.6"/><circle cx="1119.0" cy="367.3" r="0.5"/><circle cx="1276.7" cy="424.3" r="0.35"/><circle cx="1254.6" cy="379.3" r="0.6"/><circle cx="1230.8" cy="367.2" r="0.5"/><circle cx="1233.9" cy="338.6" r="0.9"/><circle cx="1136.1" cy="338.6" r="0.4"/><circle cx="1129.4" cy="367.6" r="0.45"/><circle cx="1210.4" cy="371.5" r="0.7"/><circle cx="1245.3" cy="368.9" r="0.9"/><circle cx="1119.3" cy="377.9" r="0.45"/><circle cx="1122.3" cy="438.5" r="0.4"/><circle cx="1197.2" cy="355.4" r="0.9"/><circle cx="1219.9" cy="345.3" r="0.6"/><circle cx="1206.0" cy="374.1" r="0.45"/><circle cx="1216.3" cy="341.3" r="0.45"/><circle cx="1275.0" cy="374.5" r="0.6"/><circle cx="1214.6" cy="376.9" r="0.35"/><circle cx="1239.5" cy="353.6" r="0.7"/><circle cx="1284.2" cy="340.2" r="0.4"/><circle cx="1178.2" cy="370.5" r="0.5"/><circle cx="1231.8" cy="373.2" r="0.6"/><circle cx="1224.0" cy="378.9" r="0.7"/><circle cx="1284.9" cy="354.5" r="0.5"/><circle cx="1118.2" cy="442.6" r="0.9"/><circle cx="1215.9" cy="353.6" r="0.55"/><circle cx="1129.4" cy="359.3" r="0.4"/><circle cx="1215.6" cy="373.2" r="0.6"/><circle cx="1283.4" cy="379.7" r="0.7"/><circle cx="1258.3" cy="375.1" r="0.45"/><circle cx="1163.5" cy="367.5" r="0.35"/><circle cx="1156.9" cy="338.5" r="0.35"/><circle cx="1184.3" cy="360.5" r="0.55"/><circle cx="1279.3" cy="409.6" r="0.4"/><circle cx="1117.9" cy="369.1" r="0.35"/><circle cx="1152.8" cy="376.0" r="0.35"/><circle cx="1231.4" cy="377.3" r="0.35"/><circle cx="1264.2" cy="339.2" r="0.6"/><circle cx="1126.4" cy="411.1" r="0.6"/><circle cx="1143.4" cy="338.3" r="0.5"/><circle cx="1281.7" cy="391.5" r="0.55"/><circle cx="1163.2" cy="367.0" r="0.9"/><circle cx="1281.6" cy="354.4" r="0.5"/><circle cx="1274.9" cy="412.5" r="0.4"/><circle cx="1127.1" cy="397.4" r="0.45"/><circle cx="1121.5" cy="416.8" r="0.35"/><circle cx="1128.0" cy="415.0" r="0.7"/><circle cx="1230.6" cy="378.9" r="0.5"/><circle cx="1222.7" cy="363.4" r="0.55"/><circle cx="1120.5" cy="422.8" r="0.5"/><circle cx="1156.0" cy="360.9" r="0.7"/><circle cx="1225.3" cy="372.5" r="0.9"/><circle cx="1263.5" cy="368.7" r="0.45"/><circle cx="1255.6" cy="370.6" r="0.6"/><circle cx="1117.7" cy="442.7" r="0.5"/><circle cx="1262.5" cy="358.3" r="0.45"/><circle cx="1284.6" cy="372.4" r="0.35"/><circle cx="1252.6" cy="354.6" r="0.35"/><circle cx="1139.5" cy="373.1" r="0.6"/><circle cx="1133.4" cy="356.7" r="0.7"/><circle cx="1132.2" cy="377.6" r="0.7"/><circle cx="1122.5" cy="364.7" r="0.35"/><circle cx="1123.4" cy="397.8" r="0.5"/><circle cx="1239.8" cy="341.9" r="0.6"/><circle cx="1127.9" cy="349.5" r="0.9"/><circle cx="1280.5" cy="400.3" r="0.35"/><circle cx="1201.4" cy="349.8" r="0.6"/><circle cx="1154.7" cy="344.9" r="0.45"/><circle cx="1119.6" cy="368.9" r="0.35"/><circle cx="1150.1" cy="341.9" r="0.6"/><circle cx="1162.0" cy="375.9" r="0.35"/><circle cx="1282.5" cy="443.0" r="0.55"/><circle cx="1184.3" cy="375.0" r="0.7"/><circle cx="1181.5" cy="354.5" r="0.7"/><circle cx="1283.6" cy="420.9" r="0.7"/><circle cx="1284.0" cy="437.0" r="0.4"/><circle cx="1122.7" cy="423.7" r="0.7"/><circle cx="1234.0" cy="375.7" r="0.9"/><circle cx="1209.5" cy="374.6" r="0.35"/><circle cx="1196.3" cy="377.9" r="0.7"/><circle cx="1231.1" cy="375.4" r="0.5"/><circle cx="1272.7" cy="429.7" r="0.55"/><circle cx="1197.3" cy="363.1" r="0.45"/><circle cx="1128.1" cy="428.7" r="0.6"/><circle cx="1254.0" cy="365.2" r="0.45"/><circle cx="1270.4" cy="375.4" r="0.6"/><circle cx="1137.7" cy="354.8" r="0.55"/><circle cx="1180.2" cy="380.6" r="0.55"/><circle cx="1193.3" cy="346.8" r="0.7"/><circle cx="1240.1" cy="357.4" r="0.45"/><circle cx="1118.0" cy="352.0" r="0.9"/><circle cx="1204.7" cy="365.1" r="0.6"/><circle cx="1117.1" cy="367.8" r="0.45"/><circle cx="1271.5" cy="367.3" r="0.55"/><circle cx="1257.6" cy="347.2" r="0.9"/><circle cx="1261.7" cy="360.7" r="0.7"/><circle cx="1278.5" cy="371.6" r="0.6"/><circle cx="1272.1" cy="423.8" r="0.7"/><circle cx="1237.0" cy="381.6" r="0.5"/><circle cx="1172.5" cy="344.7" r="0.9"/><circle cx="1244.6" cy="339.1" r="0.9"/><circle cx="1274.6" cy="421.8" r="0.7"/><circle cx="1123.8" cy="419.2" r="0.6"/><circle cx="1136.9" cy="363.0" r="0.4"/><circle cx="1213.2" cy="337.9" r="0.9"/><circle cx="1212.1" cy="342.7" r="0.5"/><circle cx="1126.2" cy="420.6" r="0.7"/><circle cx="1259.1" cy="353.2" r="0.7"/><circle cx="1141.5" cy="376.9" r="0.35"/><circle cx="1204.6" cy="346.6" r="0.7"/><circle cx="1187.8" cy="342.3" r="0.55"/><circle cx="1168.4" cy="352.1" r="0.5"/><circle cx="1207.5" cy="381.8" r="0.9"/><circle cx="1239.9" cy="337.0" r="0.4"/><circle cx="1171.5" cy="369.5" r="0.9"/><circle cx="1126.7" cy="389.1" r="0.4"/><circle cx="1125.3" cy="441.6" r="0.4"/><circle cx="1119.4" cy="424.3" r="0.45"/><circle cx="1230.7" cy="372.1" r="0.5"/><circle cx="1207.1" cy="355.5" r="0.5"/><circle cx="1151.0" cy="347.2" r="0.35"/><circle cx="1232.6" cy="355.0" r="0.35"/><circle cx="1272.7" cy="352.3" r="0.45"/><circle cx="1257.9" cy="371.9" r="0.5"/><circle cx="1169.2" cy="367.6" r="0.5"/><circle cx="1282.1" cy="383.9" r="0.35"/><circle cx="1172.2" cy="355.1" r="0.55"/><circle cx="1231.4" cy="350.0" r="0.6"/><circle cx="1284.8" cy="451.0" r="0.4"/><circle cx="1166.0" cy="378.6" r="0.9"/><circle cx="1150.8" cy="370.3" r="0.55"/><circle cx="1131.9" cy="353.1" r="0.55"/><circle cx="1134.0" cy="336.2" r="0.5"/><circle cx="1276.1" cy="416.4" r="0.35"/><circle cx="1146.0" cy="378.9" r="0.9"/><circle cx="1167.3" cy="344.5" r="0.9"/><circle cx="1194.7" cy="340.1" r="0.4"/><circle cx="1240.7" cy="380.0" r="0.4"/><circle cx="1142.1" cy="347.5" r="0.5"/><circle cx="1207.3" cy="350.4" r="0.9"/><circle cx="1124.1" cy="367.4" r="0.5"/><circle cx="1283.5" cy="447.2" r="0.5"/><circle cx="1267.1" cy="337.8" r="0.35"/><circle cx="1142.9" cy="368.3" r="0.35"/><circle cx="1153.7" cy="365.8" r="0.35"/><circle cx="1255.4" cy="344.9" r="0.6"/><circle cx="1282.6" cy="341.0" r="0.45"/><circle cx="1254.3" cy="377.9" r="0.9"/><circle cx="1216.7" cy="358.4" r="0.6"/><circle cx="1275.4" cy="386.4" r="0.7"/><circle cx="1122.4" cy="432.5" r="0.45"/><circle cx="1142.5" cy="378.1" r="0.45"/><circle cx="1128.3" cy="336.3" r="0.9"/><circle cx="1123.4" cy="400.3" r="0.6"/><circle cx="1224.2" cy="360.4" r="0.35"/><circle cx="1175.8" cy="355.9" r="0.9"/><circle cx="1274.9" cy="446.7" r="0.9"/><circle cx="1263.7" cy="372.6" r="0.4"/><circle cx="1128.5" cy="431.9" r="0.55"/><circle cx="1266.9" cy="342.1" r="0.7"/><circle cx="1275.7" cy="437.1" r="0.7"/><circle cx="1276.8" cy="363.9" r="0.6"/><circle cx="1188.9" cy="373.3" r="0.55"/><circle cx="1199.4" cy="338.0" r="0.4"/><circle cx="1186.2" cy="372.7" r="0.45"/><circle cx="1173.5" cy="362.2" r="0.6"/><circle cx="1122.5" cy="377.1" r="0.55"/><circle cx="1157.7" cy="362.5" r="0.35"/><circle cx="1182.7" cy="376.7" r="0.45"/><circle cx="1178.1" cy="363.4" r="0.7"/><circle cx="1169.0" cy="375.0" r="0.5"/><circle cx="1182.9" cy="337.1" r="0.45"/><circle cx="1134.5" cy="366.1" r="0.55"/><circle cx="1282.9" cy="425.9" r="0.7"/><circle cx="1203.7" cy="376.5" r="0.55"/><circle cx="1278.4" cy="380.3" r="0.7"/><circle cx="1275.0" cy="435.0" r="0.35"/><circle cx="1126.6" cy="438.2" r="0.4"/><circle cx="1122.9" cy="375.8" r="0.45"/><circle cx="1118.2" cy="450.6" r="0.55"/><circle cx="1214.2" cy="341.7" r="0.7"/><circle cx="1282.5" cy="412.8" r="0.5"/><circle cx="1279.3" cy="422.9" r="0.55"/><circle cx="1200.5" cy="341.9" r="0.6"/><circle cx="1267.6" cy="360.6" r="0.35"/><circle cx="1145.8" cy="374.2" r="0.35"/><circle cx="1247.9" cy="380.1" r="0.45"/><circle cx="1273.4" cy="385.3" r="0.55"/><circle cx="1178.0" cy="375.1" r="0.9"/><circle cx="1162.0" cy="361.0" r="0.9"/><circle cx="1124.4" cy="370.1" r="0.9"/><circle cx="1186.4" cy="345.4" r="0.7"/><circle cx="1206.2" cy="371.3" r="0.4"/><circle cx="1124.0" cy="437.2" r="0.55"/><circle cx="1161.7" cy="365.8" r="0.4"/><circle cx="1264.5" cy="347.8" r="0.7"/><circle cx="1273.7" cy="356.3" r="0.45"/><circle cx="1280.0" cy="413.6" r="0.4"/><circle cx="1275.4" cy="426.9" r="0.6"/><circle cx="1237.0" cy="353.6" r="0.7"/><circle cx="1139.5" cy="377.5" r="0.4"/><circle cx="1272.8" cy="344.2" r="0.35"/><circle cx="1213.7" cy="369.5" r="0.45"/><circle cx="1163.4" cy="344.2" r="0.55"/><circle cx="1169.1" cy="380.0" r="0.4"/><circle cx="1171.8" cy="336.4" r="0.45"/><circle cx="1281.7" cy="408.2" r="0.35"/><circle cx="1123.7" cy="437.3" r="0.4"/><circle cx="1198.5" cy="372.0" r="0.6"/><circle cx="1279.6" cy="401.0" r="0.5"/><circle cx="1122.1" cy="431.2" r="0.35"/><circle cx="1253.6" cy="368.8" r="0.6"/><circle cx="1127.6" cy="413.1" r="0.4"/><circle cx="1284.8" cy="434.4" r="0.6"/><circle cx="1227.8" cy="366.8" r="0.9"/><circle cx="1280.3" cy="443.8" r="0.9"/><circle cx="1135.9" cy="356.3" r="0.5"/><circle cx="1119.8" cy="431.2" r="0.5"/><circle cx="1247.3" cy="360.6" r="0.55"/><circle cx="1272.0" cy="424.4" r="0.35"/><circle cx="1127.6" cy="361.2" r="0.35"/><circle cx="1212.3" cy="374.6" r="0.6"/><circle cx="1168.5" cy="341.4" r="0.45"/><circle cx="1122.0" cy="423.3" r="0.4"/><circle cx="1198.9" cy="346.1" r="0.6"/><circle cx="1255.5" cy="351.7" r="0.4"/><circle cx="1206.0" cy="366.8" r="0.7"/><circle cx="1152.3" cy="366.8" r="0.35"/><circle cx="1275.0" cy="359.6" r="0.55"/><circle cx="1276.3" cy="456.0" r="0.7"/><circle cx="1190.6" cy="352.9" r="0.4"/><circle cx="1180.8" cy="337.1" r="0.4"/><circle cx="1195.1" cy="341.3" r="0.4"/><circle cx="1261.7" cy="377.4" r="0.9"/><circle cx="1151.7" cy="365.8" r="0.6"/><circle cx="1181.5" cy="348.7" r="0.45"/><circle cx="1276.2" cy="389.9" r="0.9"/><circle cx="1117.8" cy="405.3" r="0.5"/><circle cx="1123.5" cy="347.5" r="0.5"/><circle cx="1252.3" cy="340.7" r="0.35"/><circle cx="1278.7" cy="430.9" r="0.35"/><circle cx="1273.8" cy="414.2" r="0.7"/><circle cx="1161.3" cy="354.8" r="0.35"/><circle cx="1133.3" cy="353.5" r="0.45"/><circle cx="1220.8" cy="375.6" r="0.7"/><circle cx="1271.4" cy="336.3" r="0.35"/><circle cx="1130.1" cy="342.6" r="0.55"/><circle cx="1211.3" cy="361.5" r="0.45"/><circle cx="1194.2" cy="351.0" r="0.5"/><circle cx="1220.2" cy="346.6" r="0.6"/><circle cx="1231.2" cy="346.8" r="0.5"/><circle cx="1134.1" cy="381.0" r="0.55"/><circle cx="1169.1" cy="372.2" r="0.9"/><circle cx="1246.5" cy="336.8" r="0.4"/><circle cx="1124.3" cy="419.6" r="0.5"/><circle cx="1237.8" cy="339.7" r="0.45"/><circle cx="1265.0" cy="358.0" r="0.55"/><circle cx="1159.6" cy="372.8" r="0.6"/><circle cx="1121.8" cy="382.8" r="0.45"/><circle cx="1284.5" cy="428.1" r="0.55"/><circle cx="1252.4" cy="337.6" r="0.35"/><circle cx="1117.3" cy="430.4" r="0.5"/><circle cx="1206.6" cy="348.8" r="0.6"/><circle cx="1188.6" cy="377.2" r="0.4"/><circle cx="1275.0" cy="385.9" r="0.4"/><circle cx="1226.2" cy="362.7" r="0.35"/><circle cx="1140.9" cy="344.5" r="0.4"/><circle cx="1234.1" cy="373.2" r="0.4"/><circle cx="1129.4" cy="345.1" r="0.4"/><circle cx="1272.1" cy="391.1" r="0.4"/><circle cx="1234.4" cy="357.2" r="0.4"/><circle cx="1171.4" cy="361.2" r="0.7"/><circle cx="1256.6" cy="363.7" r="0.5"/><circle cx="1163.8" cy="337.2" r="0.5"/><circle cx="1129.2" cy="347.0" r="0.55"/><circle cx="1228.4" cy="358.1" r="0.45"/><circle cx="1126.6" cy="367.1" r="0.4"/><circle cx="1213.0" cy="363.3" r="0.4"/><circle cx="1166.9" cy="368.8" r="0.45"/><circle cx="1274.7" cy="379.5" r="0.45"/><circle cx="1159.4" cy="380.8" r="0.4"/><circle cx="1274.1" cy="339.7" r="0.5"/><circle cx="1260.8" cy="365.5" r="0.9"/><circle cx="1161.3" cy="336.9" r="0.4"/><circle cx="1156.6" cy="339.6" r="0.9"/><circle cx="1199.1" cy="349.4" r="0.9"/><circle cx="1132.8" cy="350.4" r="0.9"/><circle cx="1272.5" cy="447.4" r="0.7"/><circle cx="1191.2" cy="350.5" r="0.4"/><circle cx="1157.3" cy="377.4" r="0.35"/><circle cx="1129.1" cy="363.2" r="0.5"/><circle cx="1279.2" cy="441.0" r="0.4"/><circle cx="1127.1" cy="388.9" r="0.35"/><circle cx="1157.4" cy="356.9" r="0.6"/><circle cx="1152.8" cy="346.2" r="0.55"/><circle cx="1249.3" cy="352.1" r="0.9"/><circle cx="1223.3" cy="348.0" r="0.55"/><circle cx="1228.7" cy="380.2" r="0.4"/><circle cx="1232.7" cy="339.9" r="0.5"/><circle cx="1140.5" cy="380.6" r="0.7"/><circle cx="1147.6" cy="363.8" r="0.9"/><circle cx="1268.9" cy="346.0" r="0.5"/><circle cx="1260.2" cy="370.9" r="0.45"/><circle cx="1258.4" cy="373.3" r="0.6"/><circle cx="1119.1" cy="452.1" r="0.5"/><circle cx="1128.1" cy="381.7" r="0.9"/><circle cx="1230.3" cy="362.0" r="0.5"/><circle cx="1244.4" cy="339.9" r="0.45"/><circle cx="1120.9" cy="381.8" r="0.45"/></g><line x1="1125" y1="377" x2="1284" y2="335" stroke="#222" stroke-width="1" /><circle cx="1120.6" cy="380.6" r="2.6" fill="#fff" stroke="#333" stroke-width="0.9"/><path d="M1140.5,357.225 H1147.5 L1144,360.725 Z" fill="none" stroke="#111" stroke-width="1.1" /><path d="M1202.35,365.8 V372.8 L1198.5,369.3 Z" fill="none" stroke="#111" stroke-width="1.3" /><path d="M1295,335 H1299.6 V337.8 H1295 M1299.6,336.6 H1305.6 V333.6" fill="none" stroke="#111" stroke-width="1.1" /><circle cx="1305.6" cy="333.4" r="1.2" fill="#111"/><rect x="1053" y="365" width="43.5" height="19.4" fill="#575757" stroke="none" stroke-width="1" /><line x1="1058" y1="705.5" x2="1282" y2="705.5" stroke="#8c8c8c" stroke-width="1" /><line x1="1058" y1="710.5" x2="1282" y2="710.5" stroke="#8c8c8c" stroke-width="1" /><line x1="1058" y1="716.5" x2="1282" y2="716.5" stroke="#8c8c8c" stroke-width="1" /><line x1="1058" y1="721.5" x2="1282" y2="721.5" stroke="#8c8c8c" stroke-width="1" /><line x1="1058" y1="727.5" x2="1282" y2="727.5" stroke="#8c8c8c" stroke-width="1" /><line x1="1058" y1="733.5" x2="1282" y2="733.5" stroke="#8c8c8c" stroke-width="1" /><line x1="1058" y1="738.5" x2="1282" y2="738.5" stroke="#8c8c8c" stroke-width="1" /><line x1="1058" y1="744.5" x2="1282" y2="744.5" stroke="#8c8c8c" stroke-width="1" /><line x1="1058" y1="750.5" x2="1282" y2="750.5" stroke="#8c8c8c" stroke-width="1" /><line x1="1058" y1="755.5" x2="1282" y2="755.5" stroke="#8c8c8c" stroke-width="1" /><line x1="1058" y1="761.5" x2="1282" y2="761.5" stroke="#8c8c8c" stroke-width="1" /><line x1="1058" y1="767.5" x2="1282" y2="767.5" stroke="#8c8c8c" stroke-width="1" /><line x1="1058" y1="772.5" x2="1282" y2="772.5" stroke="#8c8c8c" stroke-width="1" /><line x1="1058" y1="778.5" x2="1282" y2="778.5" stroke="#8c8c8c" stroke-width="1" /><line x1="1058" y1="784.5" x2="1282" y2="784.5" stroke="#8c8c8c" stroke-width="1" /><line x1="1058" y1="789.5" x2="1282" y2="789.5" stroke="#8c8c8c" stroke-width="1" /><line x1="1058" y1="795.5" x2="1282" y2="795.5" stroke="#8c8c8c" stroke-width="1" /><line x1="1058" y1="801.5" x2="1282" y2="801.5" stroke="#8c8c8c" stroke-width="1" /><line x1="1058" y1="806.5" x2="1282" y2="806.5" stroke="#8c8c8c" stroke-width="1" /><line x1="1058" y1="812.5" x2="1282" y2="812.5" stroke="#8c8c8c" stroke-width="1" /><line x1="1058" y1="818.5" x2="1282" y2="818.5" stroke="#8c8c8c" stroke-width="1" /><line x1="1058" y1="823.5" x2="1282" y2="823.5" stroke="#8c8c8c" stroke-width="1" /><line x1="1058" y1="829.5" x2="1282" y2="829.5" stroke="#8c8c8c" stroke-width="1" /><line x1="1058" y1="834.5" x2="1282" y2="834.5" stroke="#8c8c8c" stroke-width="1" /><line x1="1058" y1="840.5" x2="1282" y2="840.5" stroke="#8c8c8c" stroke-width="1" /><line x1="1058" y1="846.5" x2="1282" y2="846.5" stroke="#8c8c8c" stroke-width="1" /><line x1="1058" y1="851.5" x2="1282" y2="851.5" stroke="#8c8c8c" stroke-width="1" /><line x1="1058" y1="806.5" x2="1271" y2="806.5" stroke="#555" stroke-width="0.9" /><line x1="1058" y1="857.8" x2="1282" y2="857.8" stroke="#333" stroke-width="1.4" /><line x1="1058" y1="860.5" x2="1282" y2="860.5" stroke="#222" stroke-width="1.2" /><line x1="1058" y1="871.5" x2="1282" y2="871.5" stroke="#999" stroke-width="1.2" /><rect x="1062.3999999999999" y="801.9" width="8.8" height="8.8" fill="#fff" stroke="#999" stroke-width="0.8" /><circle cx="1066.8" cy="806.3" r="2.728" fill="#fff" stroke="#555" stroke-width="0.9"/><rect x="1271.1" y="801.9" width="8.8" height="8.8" fill="#fff" stroke="#999" stroke-width="0.8" /><circle cx="1275.5" cy="806.3" r="2.728" fill="#fff" stroke="#555" stroke-width="0.9"/><path d="M1167.4,776.38 H1174.6 L1171,779.98 Z" fill="none" stroke="#111" stroke-width="1.1" /><path d="M1168,835.4 L1171,832.2 L1174,835.4" fill="none" stroke="#111" stroke-width="1.2" /><line x1="1044.5" y1="705" x2="1044.5" y2="976" stroke="#aaa" stroke-width="1.2" /><line x1="1058.5" y1="705" x2="1058.5" y2="976" stroke="#999" stroke-width="1.0" /><line x1="1044.9" y1="976.5" x2="1058" y2="976.5" stroke="#aaa" stroke-width="1.0" /><line x1="1058" y1="967.5" x2="1297.5" y2="967.5" stroke="#777" stroke-width="1.2" /><line x1="1297.5" y1="884" x2="1297.5" y2="967.2" stroke="#777" stroke-width="1.2" /><rect x="1071" y="888.6" width="42.6" height="60.9" fill="none" stroke="#444" stroke-width="1.1" /><line x1="1071" y1="888.6" x2="1113.6" y2="949.5" stroke="#555" stroke-width="0.7" /><line x1="1113.6" y1="888.6" x2="1071" y2="949.5" stroke="#555" stroke-width="0.7" /><rect x="1126.6" y="888.6" width="42.15" height="60.9" fill="none" stroke="#444" stroke-width="1.1" /><line x1="1126.6" y1="888.6" x2="1168.75" y2="949.5" stroke="#555" stroke-width="0.7" /><line x1="1168.75" y1="888.6" x2="1126.6" y2="949.5" stroke="#555" stroke-width="0.7" /><rect x="1182" y="888.6" width="42.5" height="60.9" fill="none" stroke="#444" stroke-width="1.1" /><line x1="1182" y1="888.6" x2="1224.5" y2="949.5" stroke="#555" stroke-width="0.7" /><line x1="1224.5" y1="888.6" x2="1182" y2="949.5" stroke="#555" stroke-width="0.7" /><rect x="1237.3" y="888.6" width="42.4" height="60.9" fill="none" stroke="#444" stroke-width="1.1" /><line x1="1237.3" y1="888.6" x2="1279.7" y2="949.5" stroke="#555" stroke-width="0.7" /><line x1="1279.7" y1="888.6" x2="1237.3" y2="949.5" stroke="#555" stroke-width="0.7" /><path d="M1045,383 H1271 V750 H1099 V705 H1045 Z" fill="#fff" stroke="#222" stroke-width="1.3" /><path d="M1058,396.3 H1258.5 V739.4 H1111.5 V463.75 H1058 Z" fill="#fff" stroke="#222" stroke-width="1.3" /><line x1="1058" y1="402.5" x2="1258.5" y2="402.5" stroke="#4a4a4a" stroke-width="0.9" /><line x1="1058" y1="407.5" x2="1258.5" y2="407.5" stroke="#4a4a4a" stroke-width="0.9" /><line x1="1058" y1="413.5" x2="1258.5" y2="413.5" stroke="#4a4a4a" stroke-width="0.9" /><line x1="1058" y1="418.5" x2="1258.5" y2="418.5" stroke="#4a4a4a" stroke-width="0.9" /><line x1="1058" y1="424.5" x2="1258.5" y2="424.5" stroke="#4a4a4a" stroke-width="0.9" /><line x1="1058" y1="430.5" x2="1258.5" y2="430.5" stroke="#4a4a4a" stroke-width="0.9" /><line x1="1058" y1="435.5" x2="1258.5" y2="435.5" stroke="#4a4a4a" stroke-width="0.9" /><line x1="1058" y1="441.5" x2="1258.5" y2="441.5" stroke="#4a4a4a" stroke-width="0.9" /><line x1="1058" y1="447.5" x2="1258.5" y2="447.5" stroke="#4a4a4a" stroke-width="0.9" /><line x1="1058" y1="452.5" x2="1258.5" y2="452.5" stroke="#4a4a4a" stroke-width="0.9" /><line x1="1058" y1="458.5" x2="1258.5" y2="458.5" stroke="#4a4a4a" stroke-width="0.9" /><line x1="1111.5" y1="463.5" x2="1258.5" y2="463.5" stroke="#4a4a4a" stroke-width="0.9" /><line x1="1111.5" y1="469.5" x2="1258.5" y2="469.5" stroke="#4a4a4a" stroke-width="0.9" /><line x1="1111.5" y1="475.5" x2="1258.5" y2="475.5" stroke="#4a4a4a" stroke-width="0.9" /><line x1="1111.5" y1="480.5" x2="1258.5" y2="480.5" stroke="#4a4a4a" stroke-width="0.9" /><line x1="1111.5" y1="486.5" x2="1258.5" y2="486.5" stroke="#4a4a4a" stroke-width="0.9" /><line x1="1111.5" y1="492.5" x2="1258.5" y2="492.5" stroke="#4a4a4a" stroke-width="0.9" /><line x1="1111.5" y1="497.5" x2="1258.5" y2="497.5" stroke="#4a4a4a" stroke-width="0.9" /><line x1="1111.5" y1="503.5" x2="1258.5" y2="503.5" stroke="#4a4a4a" stroke-width="0.9" /><line x1="1111.5" y1="509.5" x2="1258.5" y2="509.5" stroke="#4a4a4a" stroke-width="0.9" /><line x1="1111.5" y1="514.5" x2="1258.5" y2="514.5" stroke="#4a4a4a" stroke-width="0.9" /><line x1="1111.5" y1="520.5" x2="1258.5" y2="520.5" stroke="#4a4a4a" stroke-width="0.9" /><line x1="1111.5" y1="525.5" x2="1258.5" y2="525.5" stroke="#4a4a4a" stroke-width="0.9" /><line x1="1111.5" y1="531.5" x2="1258.5" y2="531.5" stroke="#4a4a4a" stroke-width="0.9" /><line x1="1111.5" y1="537.5" x2="1258.5" y2="537.5" stroke="#4a4a4a" stroke-width="0.9" /><line x1="1111.5" y1="542.5" x2="1258.5" y2="542.5" stroke="#4a4a4a" stroke-width="0.9" /><line x1="1111.5" y1="548.5" x2="1258.5" y2="548.5" stroke="#4a4a4a" stroke-width="0.9" /><line x1="1111.5" y1="554.5" x2="1258.5" y2="554.5" stroke="#4a4a4a" stroke-width="0.9" /><line x1="1111.5" y1="559.5" x2="1258.5" y2="559.5" stroke="#4a4a4a" stroke-width="0.9" /><line x1="1111.5" y1="565.5" x2="1258.5" y2="565.5" stroke="#4a4a4a" stroke-width="0.9" /><line x1="1111.5" y1="570.5" x2="1258.5" y2="570.5" stroke="#4a4a4a" stroke-width="0.9" /><line x1="1111.5" y1="576.5" x2="1258.5" y2="576.5" stroke="#4a4a4a" stroke-width="0.9" /><line x1="1111.5" y1="582.5" x2="1258.5" y2="582.5" stroke="#4a4a4a" stroke-width="0.9" /><line x1="1111.5" y1="587.5" x2="1258.5" y2="587.5" stroke="#4a4a4a" stroke-width="0.9" /><line x1="1111.5" y1="593.5" x2="1258.5" y2="593.5" stroke="#4a4a4a" stroke-width="0.9" /><line x1="1111.5" y1="599.5" x2="1258.5" y2="599.5" stroke="#4a4a4a" stroke-width="0.9" /><line x1="1111.5" y1="604.5" x2="1258.5" y2="604.5" stroke="#4a4a4a" stroke-width="0.9" /><line x1="1111.5" y1="610.5" x2="1258.5" y2="610.5" stroke="#4a4a4a" stroke-width="0.9" /><line x1="1111.5" y1="615.5" x2="1258.5" y2="615.5" stroke="#4a4a4a" stroke-width="0.9" /><line x1="1111.5" y1="621.5" x2="1258.5" y2="621.5" stroke="#4a4a4a" stroke-width="0.9" /><line x1="1111.5" y1="627.5" x2="1258.5" y2="627.5" stroke="#4a4a4a" stroke-width="0.9" /><line x1="1111.5" y1="632.5" x2="1258.5" y2="632.5" stroke="#4a4a4a" stroke-width="0.9" /><line x1="1111.5" y1="638.5" x2="1258.5" y2="638.5" stroke="#4a4a4a" stroke-width="0.9" /><line x1="1111.5" y1="644.5" x2="1258.5" y2="644.5" stroke="#4a4a4a" stroke-width="0.9" /><line x1="1111.5" y1="649.5" x2="1258.5" y2="649.5" stroke="#4a4a4a" stroke-width="0.9" /><line x1="1111.5" y1="655.5" x2="1258.5" y2="655.5" stroke="#4a4a4a" stroke-width="0.9" /><line x1="1111.5" y1="661.5" x2="1258.5" y2="661.5" stroke="#4a4a4a" stroke-width="0.9" /><line x1="1111.5" y1="666.5" x2="1258.5" y2="666.5" stroke="#4a4a4a" stroke-width="0.9" /><line x1="1111.5" y1="672.5" x2="1258.5" y2="672.5" stroke="#4a4a4a" stroke-width="0.9" /><line x1="1111.5" y1="677.5" x2="1258.5" y2="677.5" stroke="#4a4a4a" stroke-width="0.9" /><line x1="1111.5" y1="683.5" x2="1258.5" y2="683.5" stroke="#4a4a4a" stroke-width="0.9" /><line x1="1111.5" y1="689.5" x2="1258.5" y2="689.5" stroke="#4a4a4a" stroke-width="0.9" /><line x1="1111.5" y1="694.5" x2="1258.5" y2="694.5" stroke="#4a4a4a" stroke-width="0.9" /><line x1="1111.5" y1="700.5" x2="1258.5" y2="700.5" stroke="#4a4a4a" stroke-width="0.9" /><line x1="1111.5" y1="706.5" x2="1258.5" y2="706.5" stroke="#4a4a4a" stroke-width="0.9" /><line x1="1111.5" y1="711.5" x2="1258.5" y2="711.5" stroke="#4a4a4a" stroke-width="0.9" /><line x1="1111.5" y1="717.5" x2="1258.5" y2="717.5" stroke="#4a4a4a" stroke-width="0.9" /><line x1="1111.5" y1="722.5" x2="1258.5" y2="722.5" stroke="#4a4a4a" stroke-width="0.9" /><line x1="1111.5" y1="728.5" x2="1258.5" y2="728.5" stroke="#4a4a4a" stroke-width="0.9" /><line x1="1111.5" y1="734.5" x2="1258.5" y2="734.5" stroke="#4a4a4a" stroke-width="0.9" /><rect x="1045" y="463.75" width="66" height="211.55" fill="#fff" stroke="none" stroke-width="1" /><rect x="1045" y="675.3" width="54" height="29.7" fill="#fff" stroke="none" stroke-width="1" /><line x1="1045" y1="463.5" x2="1111" y2="463.5" stroke="#222" stroke-width="1.3" /><line x1="1044.9" y1="383" x2="1044.9" y2="705" stroke="#222" stroke-width="1.4" /><line x1="1057.5" y1="463.75" x2="1057.5" y2="675" stroke="#222" stroke-width="1.2" /><line x1="1099.5" y1="463.75" x2="1099.5" y2="705" stroke="#222" stroke-width="1.3" /><line x1="1111.5" y1="463.75" x2="1111.5" y2="739.4" stroke="#222" stroke-width="1.3" /><line x1="1057.5" y1="476.5" x2="1099" y2="476.5" stroke="#222" stroke-width="1.3" /><line x1="1057.5" y1="488.5" x2="1099" y2="488.5" stroke="#222" stroke-width="1.3" /><line x1="1057.5" y1="500.5" x2="1099" y2="500.5" stroke="#222" stroke-width="1.3" /><line x1="1057.5" y1="512.5" x2="1099" y2="512.5" stroke="#222" stroke-width="1.3" /><line x1="1057.5" y1="524.5" x2="1099" y2="524.5" stroke="#222" stroke-width="1.3" /><line x1="1057.5" y1="536.5" x2="1099" y2="536.5" stroke="#222" stroke-width="1.3" /><line x1="1057.5" y1="548.5" x2="1099" y2="548.5" stroke="#222" stroke-width="1.3" /><line x1="1057.5" y1="560.5" x2="1099" y2="560.5" stroke="#222" stroke-width="1.3" /><line x1="1057.5" y1="572.5" x2="1099" y2="572.5" stroke="#222" stroke-width="1.3" /><line x1="1057.5" y1="584.5" x2="1099" y2="584.5" stroke="#222" stroke-width="1.3" /><line x1="1057.5" y1="596.5" x2="1099" y2="596.5" stroke="#222" stroke-width="1.3" /><line x1="1057.5" y1="609.5" x2="1099" y2="609.5" stroke="#222" stroke-width="1.3" /><line x1="1057.5" y1="621.5" x2="1099" y2="621.5" stroke="#222" stroke-width="1.3" /><line x1="1057.5" y1="633.5" x2="1099" y2="633.5" stroke="#222" stroke-width="1.3" /><line x1="1057.5" y1="645.5" x2="1099" y2="645.5" stroke="#222" stroke-width="1.3" /><line x1="1057.5" y1="657.5" x2="1099" y2="657.5" stroke="#222" stroke-width="1.3" /><line x1="1057.5" y1="669.5" x2="1099" y2="669.5" stroke="#222" stroke-width="1.3" /><line x1="1045" y1="675.3" x2="1099" y2="675.3" stroke="#111" stroke-width="1.7" /><line x1="1078.5" y1="463.75" x2="1078.5" y2="675.3" stroke="#333" stroke-width="1" /><path d="M1074.3,468.78000000000003 H1083.1000000000001 L1078.7,464.38 Z" fill="none" stroke="#111" stroke-width="1.3" /><line x1="1045" y1="705" x2="1058" y2="705" stroke="#222" stroke-width="1.4" /><path d="M1099,705 V750 H1111" fill="none" stroke="#333" stroke-width="1" stroke-dasharray="2 1.2"/><text x="0" y="0" font-family="Liberation Sans" font-size="6.4" fill="#1a1a1a" font-weight="normal" text-anchor="end" transform="translate(1096.5,462) scale(0.62,1)">19</text><text x="0" y="0" font-family="Liberation Sans" font-size="6.4" fill="#1a1a1a" font-weight="normal" text-anchor="end" transform="translate(1096.5,474.5) scale(0.62,1)">18</text><text x="0" y="0" font-family="Liberation Sans" font-size="6.4" fill="#1a1a1a" font-weight="normal" text-anchor="end" transform="translate(1096.5,486.5) scale(0.62,1)">17</text><text x="0" y="0" font-family="Liberation Sans" font-size="6.4" fill="#1a1a1a" font-weight="normal" text-anchor="end" transform="translate(1096.5,498.5) scale(0.62,1)">16</text><text x="0" y="0" font-family="Liberation Sans" font-size="6.4" fill="#1a1a1a" font-weight="normal" text-anchor="end" transform="translate(1096.5,510.5) scale(0.62,1)">15</text><text x="0" y="0" font-family="Liberation Sans" font-size="6.4" fill="#1a1a1a" font-weight="normal" text-anchor="end" transform="translate(1096.5,522.5) scale(0.62,1)">14</text><text x="0" y="0" font-family="Liberation Sans" font-size="6.4" fill="#1a1a1a" font-weight="normal" text-anchor="end" transform="translate(1096.5,534.5) scale(0.62,1)">13</text><text x="0" y="0" font-family="Liberation Sans" font-size="6.4" fill="#1a1a1a" font-weight="normal" text-anchor="end" transform="translate(1096.5,546.5) scale(0.62,1)">12</text><text x="0" y="0" font-family="Liberation Sans" font-size="6.4" fill="#1a1a1a" font-weight="normal" text-anchor="end" transform="translate(1096.5,559) scale(0.62,1)">11</text><text x="0" y="0" font-family="Liberation Sans" font-size="6.4" fill="#1a1a1a" font-weight="normal" text-anchor="end" transform="translate(1096.5,571) scale(0.62,1)">10</text><text x="0" y="0" font-family="Liberation Sans" font-size="6.4" fill="#1a1a1a" font-weight="normal" text-anchor="end" transform="translate(1096.5,582.8) scale(0.62,1)">09</text><text x="0" y="0" font-family="Liberation Sans" font-size="6.4" fill="#1a1a1a" font-weight="normal" text-anchor="end" transform="translate(1096.5,594.5) scale(0.62,1)">08</text><text x="0" y="0" font-family="Liberation Sans" font-size="6.4" fill="#1a1a1a" font-weight="normal" text-anchor="end" transform="translate(1096.5,607.5) scale(0.62,1)">07</text><text x="0" y="0" font-family="Liberation Sans" font-size="6.4" fill="#1a1a1a" font-weight="normal" text-anchor="end" transform="translate(1096.5,619.5) scale(0.62,1)">06</text><text x="0" y="0" font-family="Liberation Sans" font-size="6.4" fill="#1a1a1a" font-weight="normal" text-anchor="end" transform="translate(1096.5,631.5) scale(0.62,1)">05</text><text x="0" y="0" font-family="Liberation Sans" font-size="6.4" fill="#1a1a1a" font-weight="normal" text-anchor="end" transform="translate(1096.5,643.5) scale(0.62,1)">04</text><text x="0" y="0" font-family="Liberation Sans" font-size="6.4" fill="#1a1a1a" font-weight="normal" text-anchor="end" transform="translate(1096.5,655.5) scale(0.62,1)">03</text><text x="0" y="0" font-family="Liberation Sans" font-size="6.4" fill="#1a1a1a" font-weight="normal" text-anchor="end" transform="translate(1096.5,668) scale(0.62,1)">02</text><line x1="1058" y1="397" x2="1181" y2="496" stroke="#222" stroke-width="1.1" /><line x1="1258.5" y1="397" x2="1189" y2="496" stroke="#222" stroke-width="1.1" /><line x1="1181" y1="505" x2="1112" y2="546.2" stroke="#222" stroke-width="1.1" /><line x1="1189" y1="505" x2="1258.5" y2="546.2" stroke="#222" stroke-width="1.1" /><line x1="1112" y1="546.2" x2="1181" y2="571.5" stroke="#222" stroke-width="1.1" /><line x1="1258.5" y1="546.2" x2="1189" y2="571.5" stroke="#222" stroke-width="1.1" /><line x1="1181" y1="580" x2="1112" y2="739.4" stroke="#222" stroke-width="1.1" /><line x1="1189" y1="580" x2="1258.5" y2="739.4" stroke="#222" stroke-width="1.1" /><line x1="1112" y1="546.3" x2="1258.5" y2="546.3" stroke="#333" stroke-width="2.0" /><rect x="1180.2" y="495.8" width="9.6" height="9.6" fill="#fff" stroke="#999" stroke-width="0.8" /><circle cx="1185" cy="500.6" r="2.976" fill="#fff" stroke="#333" stroke-width="0.9"/><rect x="1180.2" y="570.8000000000001" width="9.6" height="9.6" fill="#fff" stroke="#999" stroke-width="0.8" /><circle cx="1185" cy="575.6" r="2.976" fill="#fff" stroke="#333" stroke-width="0.9"/><path d="M1181.9,471.58 H1189.1 L1185.5,475.18 Z" fill="none" stroke="#111" stroke-width="1.2" /><path d="M1155.85,497.5 V504.1 L1159.48,500.8 Z" fill="none" stroke="#111" stroke-width="1.3" /><path d="M1214.65,497.5 V504.1 L1211.02,500.8 Z" fill="none" stroke="#111" stroke-width="1.3" /><path d="M1181.9,530.02 H1189.1 L1185.5,526.42 Z" fill="none" stroke="#111" stroke-width="1.3" /><path d="M1181.9,550.28 H1189.1 L1185.5,553.88 Z" fill="none" stroke="#111" stroke-width="1.2" /><path d="M1155.85,570.5 V577.0999999999999 L1159.48,573.8 Z" fill="none" stroke="#111" stroke-width="1.3" /><path d="M1214.65,570.7 V577.3 L1211.02,574 Z" fill="none" stroke="#111" stroke-width="1.3" /><path d="M1181.4,605.22 H1188.6 L1185,601.62 Z" fill="none" stroke="#111" stroke-width="1.3" /><rect x="1151" y="578" width="20" height="41" fill="#575757" stroke="#0a0a0a" stroke-width="2.2" /><rect x="1157.2" y="582" width="7.6" height="32.5" fill="#1a1a1a" stroke="none" stroke-width="1" /><path d="M1158.0,582.8 L1164.0,588.25 L1158.0,593.7 M1164.0,582.8 L1158.0,588.25 L1164.0,593.7" fill="none" stroke="#777" stroke-width="0.9" /><circle cx="1161.0" cy="598.90" r="2.1" fill="#f4f4f4"/><circle cx="1161.0" cy="605.40" r="2.0" fill="#f4f4f4"/><circle cx="1161.0" cy="611.90" r="2.7" fill="#f4f4f4"/><line x1="1127.5" y1="739.4" x2="1127.5" y2="750" stroke="#222" stroke-width="1" /><line x1="1242.5" y1="739.4" x2="1242.5" y2="750" stroke="#222" stroke-width="1" /><line x1="1127.5" y1="743.8" x2="1242.5" y2="743.8" stroke="#111" stroke-width="1.5" /><rect x="1105.6" y="750.6" width="159.4" height="23.8" fill="#575757" stroke="none" stroke-width="1" /><rect x="1060.6" y="385" width="68.8" height="10.6" fill="#daa500" stroke="#3a2a00" stroke-width="1.2" /><rect x="1272" y="679.4" width="9.2" height="70.6" fill="#a4a4a4" stroke="none" stroke-width="1" /><path d="M1273.3999999999999,712.56 H1279.8 L1276.6,715.76 Z" fill="none" stroke="#111" stroke-width="1" /><line x1="1282.5" y1="750" x2="1282.5" y2="884" stroke="#333" stroke-width="1" stroke-dasharray="2 1.2"/><rect x="1282.8" y="670.8" width="18.8" height="212.7" fill="#daa500" stroke="#1e1200" stroke-width="1.8" /><path d="M1301.8,798.8 H1305.3 V801.6 H1301.8 M1305.3,800.2 H1308.9 V804.5" fill="none" stroke="#111" stroke-width="0.9" /><path d="M1307.1,803.2 L1308.9,805.6 L1310.7,803.2" fill="none" stroke="#111" stroke-width="0.9" /><text x="653" y="439.4" font-family="Liberation Sans" font-size="20.11" fill="#c8161c" font-weight="bold" textLength="11" lengthAdjust="spacingAndGlyphs" stroke="#c8161c" stroke-width="0.9">05</text><text x="665.6" y="431" font-family="Liberation Sans" font-size="8.38" fill="#444" font-weight="normal" textLength="40.4" lengthAdjust="spacingAndGlyphs">DISTRIBUIDOR</text><text x="665.6" y="439" font-family="Liberation Sans" font-size="8.38" fill="#111" font-weight="bold" textLength="40.4" lengthAdjust="spacingAndGlyphs">S=04,55  m2</text><text x="777.5" y="407.5" font-family="Liberation Sans" font-size="21.65" fill="#c8161c" font-weight="bold" textLength="10.0" lengthAdjust="spacingAndGlyphs" stroke="#c8161c" stroke-width="0.9">07</text><text x="790" y="398.75" font-family="Liberation Sans" font-size="8.03" fill="#444" font-weight="normal" textLength="48.75" lengthAdjust="spacingAndGlyphs">DORMITORIO  03</text><text x="790" y="407.5" font-family="Liberation Sans" font-size="9.08" fill="#111" font-weight="bold" textLength="41" lengthAdjust="spacingAndGlyphs">S=08,45  m2</text><text x="748" y="510.6" font-family="Liberation Sans" font-size="20.95" fill="#c8161c" font-weight="bold" textLength="11" lengthAdjust="spacingAndGlyphs" stroke="#c8161c" stroke-width="0.9">09</text><text x="760.6" y="502" font-family="Liberation Sans" font-size="8.38" fill="#444" font-weight="normal" textLength="27.4" lengthAdjust="spacingAndGlyphs">BAÑO  03</text><text x="760.6" y="510.6" font-family="Liberation Sans" font-size="9.22" fill="#111" font-weight="bold" textLength="40.4" lengthAdjust="spacingAndGlyphs">S=03,20  m2</text><text x="748" y="541" font-family="Liberation Sans" font-size="21.51" fill="#c8161c" font-weight="bold" textLength="11" lengthAdjust="spacingAndGlyphs" stroke="#c8161c" stroke-width="0.9">08</text><text x="760.6" y="532.5" font-family="Liberation Sans" font-size="9.08" fill="#444" font-weight="normal" textLength="27.4" lengthAdjust="spacingAndGlyphs">BAÑO  02</text><text x="760.6" y="540.6" font-family="Liberation Sans" font-size="9.22" fill="#111" font-weight="bold" textLength="40.4" lengthAdjust="spacingAndGlyphs">S=03,20  m2</text><text x="754" y="642.5" font-family="Liberation Sans" font-size="20.25" fill="#c8161c" font-weight="bold" textLength="10" lengthAdjust="spacingAndGlyphs" stroke="#c8161c" stroke-width="0.9">06</text><text x="766" y="634" font-family="Liberation Sans" font-size="8.38" fill="#444" font-weight="normal" textLength="48" lengthAdjust="spacingAndGlyphs">DORMITORIO  02</text><text x="766" y="642.5" font-family="Liberation Sans" font-size="9.08" fill="#111" font-weight="bold" textLength="41" lengthAdjust="spacingAndGlyphs">S=12,85  m2</text><text x="680" y="841" font-family="Liberation Sans" font-size="20.95" fill="#c8161c" font-weight="bold" textLength="9.4" lengthAdjust="spacingAndGlyphs" stroke="#c8161c" stroke-width="0.9">10</text><text x="691" y="832.5" font-family="Liberation Sans" font-size="7.68" fill="#444" font-weight="normal" textLength="26.5" lengthAdjust="spacingAndGlyphs">TERRAZA</text><text x="691" y="841" font-family="Liberation Sans" font-size="8.38" fill="#111" font-weight="bold" textLength="41" lengthAdjust="spacingAndGlyphs">S=19,00  m2</text><text x="1160.5" y="441.6" font-family="Liberation Sans" font-size="20.81" fill="#c8161c" font-weight="bold" textLength="7.8" lengthAdjust="spacingAndGlyphs">11</text><text x="1169.8" y="433.75" font-family="Liberation Sans" font-size="8.73" fill="#444" font-weight="normal" textLength="29.7" lengthAdjust="spacingAndGlyphs">SOLARIUM</text><text x="1169.8" y="441.6" font-family="Liberation Sans" font-size="8.8" fill="#111" font-weight="bold" textLength="40.7" lengthAdjust="spacingAndGlyphs">S=29,10  m2</text></svg>
<div class="t title" id="t1" style="top:43.9px;left:553.8px">VIVIENDA UNIFAMILIAR</div>
<div class="t title" id="t2" style="top:89.5px;left:551.5px">PLANTA PRIMERA Y SOLARIUM</div>
<div class="t title" id="t3" style="top:135px;left:551.5px">PARCELAS Nº1 A Nº15</div>
<div class="t cap" id="c1" style="left:623.3px;top:1005.7px">PLANTA PRIMERA</div>
<div class="t cap" id="c2" style="left:1042.7px;top:1005.7px">PLANTA SOLARIUM</div>
<div class="t" id="esc" style="left:1228px;top:1214.9px;font-size:23px;letter-spacing:-0.5px">ESCALA 1:100</div>
</body></html>
